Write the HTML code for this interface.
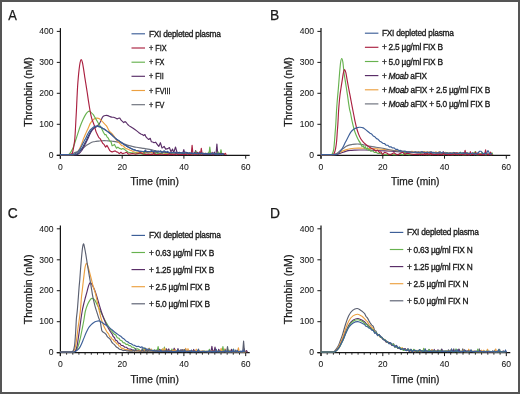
<!DOCTYPE html>
<html><head><meta charset="utf-8"><style>
html,body{margin:0;padding:0;background:#fff;}
svg{display:block;will-change:transform;}
text{font-family:"Liberation Sans",sans-serif;fill:#1a1a1a;stroke:#1a1a1a;stroke-width:0.25px;}
.tk{font-size:9.3px;stroke-width:0.08px;}
.al{font-size:10.6px;}
.lg{font-size:9.2px;stroke-width:0.35px;letter-spacing:-0.25px;}
.pl{font-size:13.8px;}
.ls0{letter-spacing:0;}
</style></head><body>
<svg width="520" height="394" viewBox="0 0 520 394">
<rect x="0" y="0" width="520" height="394" fill="#fff"/>

<text x="8.3" y="19.5" class="pl" textLength="8.6" lengthAdjust="spacingAndGlyphs">A</text>
<text x="270.0" y="19.5" class="pl">B</text>
<text x="7.7" y="217.8" class="pl">C</text>
<text x="270.0" y="217.8" class="pl">D</text>
<line x1="60.4" y1="28.1" x2="60.4" y2="158.7" stroke="#151515" stroke-width="1.25"/>
<line x1="56.8" y1="155.3" x2="249.7" y2="155.3" stroke="#151515" stroke-width="1.2"/>
<line x1="56.8" y1="155.3" x2="60.4" y2="155.3" stroke="#1a1a1a" stroke-width="1"/>
<text x="53.5" y="158.0" text-anchor="end" class="tk" textLength="4.76" lengthAdjust="spacingAndGlyphs">0</text>
<line x1="56.8" y1="124.3" x2="60.4" y2="124.3" stroke="#1a1a1a" stroke-width="1"/>
<text x="53.5" y="127.0" text-anchor="end" class="tk" textLength="14.27" lengthAdjust="spacingAndGlyphs">100</text>
<line x1="56.8" y1="93.3" x2="60.4" y2="93.3" stroke="#1a1a1a" stroke-width="1"/>
<text x="53.5" y="96.0" text-anchor="end" class="tk" textLength="14.27" lengthAdjust="spacingAndGlyphs">200</text>
<line x1="56.8" y1="62.4" x2="60.4" y2="62.4" stroke="#1a1a1a" stroke-width="1"/>
<text x="53.5" y="65.1" text-anchor="end" class="tk" textLength="14.27" lengthAdjust="spacingAndGlyphs">300</text>
<line x1="56.8" y1="31.4" x2="60.4" y2="31.4" stroke="#1a1a1a" stroke-width="1"/>
<text x="53.5" y="34.1" text-anchor="end" class="tk" textLength="14.27" lengthAdjust="spacingAndGlyphs">400</text>
<line x1="60.4" y1="155.3" x2="60.4" y2="158.7" stroke="#1a1a1a" stroke-width="1"/>
<text x="60.4" y="169.9" text-anchor="middle" class="tk" textLength="4.76" lengthAdjust="spacingAndGlyphs">0</text>
<line x1="122.2" y1="155.3" x2="122.2" y2="158.7" stroke="#1a1a1a" stroke-width="1"/>
<text x="122.2" y="169.9" text-anchor="middle" class="tk" textLength="9.52" lengthAdjust="spacingAndGlyphs">20</text>
<line x1="183.9" y1="155.3" x2="183.9" y2="158.7" stroke="#1a1a1a" stroke-width="1"/>
<text x="183.9" y="169.9" text-anchor="middle" class="tk" textLength="9.52" lengthAdjust="spacingAndGlyphs">40</text>
<line x1="245.7" y1="155.3" x2="245.7" y2="158.7" stroke="#1a1a1a" stroke-width="1"/>
<text x="245.7" y="169.9" text-anchor="middle" class="tk" textLength="9.52" lengthAdjust="spacingAndGlyphs">60</text>
<text x="130.5" y="185.4" class="al" textLength="48.4" lengthAdjust="spacingAndGlyphs">Time (min)</text>
<text transform="translate(31.7,126.8) rotate(-90)" class="al" textLength="69.7" lengthAdjust="spacingAndGlyphs">Thrombin (nM)</text>
<line x1="321.0" y1="28.1" x2="321.0" y2="158.7" stroke="#151515" stroke-width="1.25"/>
<line x1="317.4" y1="155.3" x2="510.3" y2="155.3" stroke="#151515" stroke-width="1.2"/>
<line x1="317.4" y1="155.3" x2="321.0" y2="155.3" stroke="#1a1a1a" stroke-width="1"/>
<text x="314.1" y="158.0" text-anchor="end" class="tk" textLength="4.76" lengthAdjust="spacingAndGlyphs">0</text>
<line x1="317.4" y1="124.3" x2="321.0" y2="124.3" stroke="#1a1a1a" stroke-width="1"/>
<text x="314.1" y="127.0" text-anchor="end" class="tk" textLength="14.27" lengthAdjust="spacingAndGlyphs">100</text>
<line x1="317.4" y1="93.3" x2="321.0" y2="93.3" stroke="#1a1a1a" stroke-width="1"/>
<text x="314.1" y="96.0" text-anchor="end" class="tk" textLength="14.27" lengthAdjust="spacingAndGlyphs">200</text>
<line x1="317.4" y1="62.4" x2="321.0" y2="62.4" stroke="#1a1a1a" stroke-width="1"/>
<text x="314.1" y="65.1" text-anchor="end" class="tk" textLength="14.27" lengthAdjust="spacingAndGlyphs">300</text>
<line x1="317.4" y1="31.4" x2="321.0" y2="31.4" stroke="#1a1a1a" stroke-width="1"/>
<text x="314.1" y="34.1" text-anchor="end" class="tk" textLength="14.27" lengthAdjust="spacingAndGlyphs">400</text>
<line x1="321.0" y1="155.3" x2="321.0" y2="158.7" stroke="#1a1a1a" stroke-width="1"/>
<text x="321.0" y="169.9" text-anchor="middle" class="tk" textLength="4.76" lengthAdjust="spacingAndGlyphs">0</text>
<line x1="382.8" y1="155.3" x2="382.8" y2="158.7" stroke="#1a1a1a" stroke-width="1"/>
<text x="382.8" y="169.9" text-anchor="middle" class="tk" textLength="9.52" lengthAdjust="spacingAndGlyphs">20</text>
<line x1="444.5" y1="155.3" x2="444.5" y2="158.7" stroke="#1a1a1a" stroke-width="1"/>
<text x="444.5" y="169.9" text-anchor="middle" class="tk" textLength="9.52" lengthAdjust="spacingAndGlyphs">40</text>
<line x1="506.3" y1="155.3" x2="506.3" y2="158.7" stroke="#1a1a1a" stroke-width="1"/>
<text x="506.3" y="169.9" text-anchor="middle" class="tk" textLength="9.52" lengthAdjust="spacingAndGlyphs">60</text>
<text x="391.1" y="185.4" class="al" textLength="48.4" lengthAdjust="spacingAndGlyphs">Time (min)</text>
<text transform="translate(292.3,126.8) rotate(-90)" class="al" textLength="69.7" lengthAdjust="spacingAndGlyphs">Thrombin (nM)</text>
<line x1="60.4" y1="225.5" x2="60.4" y2="356.1" stroke="#151515" stroke-width="1.25"/>
<line x1="56.8" y1="352.7" x2="249.7" y2="352.7" stroke="#151515" stroke-width="1.2"/>
<line x1="56.8" y1="352.7" x2="60.4" y2="352.7" stroke="#1a1a1a" stroke-width="1"/>
<text x="53.5" y="355.4" text-anchor="end" class="tk" textLength="4.76" lengthAdjust="spacingAndGlyphs">0</text>
<line x1="56.8" y1="321.7" x2="60.4" y2="321.7" stroke="#1a1a1a" stroke-width="1"/>
<text x="53.5" y="324.4" text-anchor="end" class="tk" textLength="14.27" lengthAdjust="spacingAndGlyphs">100</text>
<line x1="56.8" y1="290.7" x2="60.4" y2="290.7" stroke="#1a1a1a" stroke-width="1"/>
<text x="53.5" y="293.4" text-anchor="end" class="tk" textLength="14.27" lengthAdjust="spacingAndGlyphs">200</text>
<line x1="56.8" y1="259.8" x2="60.4" y2="259.8" stroke="#1a1a1a" stroke-width="1"/>
<text x="53.5" y="262.5" text-anchor="end" class="tk" textLength="14.27" lengthAdjust="spacingAndGlyphs">300</text>
<line x1="56.8" y1="228.8" x2="60.4" y2="228.8" stroke="#1a1a1a" stroke-width="1"/>
<text x="53.5" y="231.5" text-anchor="end" class="tk" textLength="14.27" lengthAdjust="spacingAndGlyphs">400</text>
<line x1="60.4" y1="352.7" x2="60.4" y2="356.1" stroke="#1a1a1a" stroke-width="1"/>
<text x="60.4" y="367.3" text-anchor="middle" class="tk" textLength="4.76" lengthAdjust="spacingAndGlyphs">0</text>
<line x1="122.2" y1="352.7" x2="122.2" y2="356.1" stroke="#1a1a1a" stroke-width="1"/>
<text x="122.2" y="367.3" text-anchor="middle" class="tk" textLength="9.52" lengthAdjust="spacingAndGlyphs">20</text>
<line x1="183.9" y1="352.7" x2="183.9" y2="356.1" stroke="#1a1a1a" stroke-width="1"/>
<text x="183.9" y="367.3" text-anchor="middle" class="tk" textLength="9.52" lengthAdjust="spacingAndGlyphs">40</text>
<line x1="245.7" y1="352.7" x2="245.7" y2="356.1" stroke="#1a1a1a" stroke-width="1"/>
<text x="245.7" y="367.3" text-anchor="middle" class="tk" textLength="9.52" lengthAdjust="spacingAndGlyphs">60</text>
<line x1="66.6" y1="352.7" x2="66.6" y2="354.7" stroke="#1a1a1a" stroke-width="0.9"/>
<line x1="72.8" y1="352.7" x2="72.8" y2="354.7" stroke="#1a1a1a" stroke-width="0.9"/>
<line x1="78.9" y1="352.7" x2="78.9" y2="354.7" stroke="#1a1a1a" stroke-width="0.9"/>
<line x1="85.1" y1="352.7" x2="85.1" y2="354.7" stroke="#1a1a1a" stroke-width="0.9"/>
<line x1="91.3" y1="352.7" x2="91.3" y2="354.7" stroke="#1a1a1a" stroke-width="0.9"/>
<line x1="97.5" y1="352.7" x2="97.5" y2="354.7" stroke="#1a1a1a" stroke-width="0.9"/>
<line x1="103.6" y1="352.7" x2="103.6" y2="354.7" stroke="#1a1a1a" stroke-width="0.9"/>
<line x1="109.8" y1="352.7" x2="109.8" y2="354.7" stroke="#1a1a1a" stroke-width="0.9"/>
<line x1="116.0" y1="352.7" x2="116.0" y2="354.7" stroke="#1a1a1a" stroke-width="0.9"/>
<line x1="128.3" y1="352.7" x2="128.3" y2="354.7" stroke="#1a1a1a" stroke-width="0.9"/>
<line x1="134.5" y1="352.7" x2="134.5" y2="354.7" stroke="#1a1a1a" stroke-width="0.9"/>
<line x1="140.7" y1="352.7" x2="140.7" y2="354.7" stroke="#1a1a1a" stroke-width="0.9"/>
<line x1="146.9" y1="352.7" x2="146.9" y2="354.7" stroke="#1a1a1a" stroke-width="0.9"/>
<line x1="153.0" y1="352.7" x2="153.0" y2="354.7" stroke="#1a1a1a" stroke-width="0.9"/>
<line x1="159.2" y1="352.7" x2="159.2" y2="354.7" stroke="#1a1a1a" stroke-width="0.9"/>
<line x1="165.4" y1="352.7" x2="165.4" y2="354.7" stroke="#1a1a1a" stroke-width="0.9"/>
<line x1="171.6" y1="352.7" x2="171.6" y2="354.7" stroke="#1a1a1a" stroke-width="0.9"/>
<line x1="177.7" y1="352.7" x2="177.7" y2="354.7" stroke="#1a1a1a" stroke-width="0.9"/>
<line x1="190.1" y1="352.7" x2="190.1" y2="354.7" stroke="#1a1a1a" stroke-width="0.9"/>
<line x1="196.3" y1="352.7" x2="196.3" y2="354.7" stroke="#1a1a1a" stroke-width="0.9"/>
<line x1="202.4" y1="352.7" x2="202.4" y2="354.7" stroke="#1a1a1a" stroke-width="0.9"/>
<line x1="208.6" y1="352.7" x2="208.6" y2="354.7" stroke="#1a1a1a" stroke-width="0.9"/>
<line x1="214.8" y1="352.7" x2="214.8" y2="354.7" stroke="#1a1a1a" stroke-width="0.9"/>
<line x1="221.0" y1="352.7" x2="221.0" y2="354.7" stroke="#1a1a1a" stroke-width="0.9"/>
<line x1="227.2" y1="352.7" x2="227.2" y2="354.7" stroke="#1a1a1a" stroke-width="0.9"/>
<line x1="233.3" y1="352.7" x2="233.3" y2="354.7" stroke="#1a1a1a" stroke-width="0.9"/>
<line x1="239.5" y1="352.7" x2="239.5" y2="354.7" stroke="#1a1a1a" stroke-width="0.9"/>
<text x="130.5" y="382.8" class="al" textLength="48.4" lengthAdjust="spacingAndGlyphs">Time (min)</text>
<text transform="translate(31.7,324.2) rotate(-90)" class="al" textLength="69.7" lengthAdjust="spacingAndGlyphs">Thrombin (nM)</text>
<line x1="321.0" y1="225.5" x2="321.0" y2="356.1" stroke="#151515" stroke-width="1.25"/>
<line x1="317.4" y1="352.7" x2="510.3" y2="352.7" stroke="#151515" stroke-width="1.2"/>
<line x1="317.4" y1="352.7" x2="321.0" y2="352.7" stroke="#1a1a1a" stroke-width="1"/>
<text x="314.1" y="355.4" text-anchor="end" class="tk" textLength="4.76" lengthAdjust="spacingAndGlyphs">0</text>
<line x1="317.4" y1="321.7" x2="321.0" y2="321.7" stroke="#1a1a1a" stroke-width="1"/>
<text x="314.1" y="324.4" text-anchor="end" class="tk" textLength="14.27" lengthAdjust="spacingAndGlyphs">100</text>
<line x1="317.4" y1="290.7" x2="321.0" y2="290.7" stroke="#1a1a1a" stroke-width="1"/>
<text x="314.1" y="293.4" text-anchor="end" class="tk" textLength="14.27" lengthAdjust="spacingAndGlyphs">200</text>
<line x1="317.4" y1="259.8" x2="321.0" y2="259.8" stroke="#1a1a1a" stroke-width="1"/>
<text x="314.1" y="262.5" text-anchor="end" class="tk" textLength="14.27" lengthAdjust="spacingAndGlyphs">300</text>
<line x1="317.4" y1="228.8" x2="321.0" y2="228.8" stroke="#1a1a1a" stroke-width="1"/>
<text x="314.1" y="231.5" text-anchor="end" class="tk" textLength="14.27" lengthAdjust="spacingAndGlyphs">400</text>
<line x1="321.0" y1="352.7" x2="321.0" y2="356.1" stroke="#1a1a1a" stroke-width="1"/>
<text x="321.0" y="367.3" text-anchor="middle" class="tk" textLength="4.76" lengthAdjust="spacingAndGlyphs">0</text>
<line x1="382.8" y1="352.7" x2="382.8" y2="356.1" stroke="#1a1a1a" stroke-width="1"/>
<text x="382.8" y="367.3" text-anchor="middle" class="tk" textLength="9.52" lengthAdjust="spacingAndGlyphs">20</text>
<line x1="444.5" y1="352.7" x2="444.5" y2="356.1" stroke="#1a1a1a" stroke-width="1"/>
<text x="444.5" y="367.3" text-anchor="middle" class="tk" textLength="9.52" lengthAdjust="spacingAndGlyphs">40</text>
<line x1="506.3" y1="352.7" x2="506.3" y2="356.1" stroke="#1a1a1a" stroke-width="1"/>
<text x="506.3" y="367.3" text-anchor="middle" class="tk" textLength="9.52" lengthAdjust="spacingAndGlyphs">60</text>
<line x1="327.2" y1="352.7" x2="327.2" y2="354.7" stroke="#1a1a1a" stroke-width="0.9"/>
<line x1="333.4" y1="352.7" x2="333.4" y2="354.7" stroke="#1a1a1a" stroke-width="0.9"/>
<line x1="339.5" y1="352.7" x2="339.5" y2="354.7" stroke="#1a1a1a" stroke-width="0.9"/>
<line x1="345.7" y1="352.7" x2="345.7" y2="354.7" stroke="#1a1a1a" stroke-width="0.9"/>
<line x1="351.9" y1="352.7" x2="351.9" y2="354.7" stroke="#1a1a1a" stroke-width="0.9"/>
<line x1="358.1" y1="352.7" x2="358.1" y2="354.7" stroke="#1a1a1a" stroke-width="0.9"/>
<line x1="364.2" y1="352.7" x2="364.2" y2="354.7" stroke="#1a1a1a" stroke-width="0.9"/>
<line x1="370.4" y1="352.7" x2="370.4" y2="354.7" stroke="#1a1a1a" stroke-width="0.9"/>
<line x1="376.6" y1="352.7" x2="376.6" y2="354.7" stroke="#1a1a1a" stroke-width="0.9"/>
<line x1="388.9" y1="352.7" x2="388.9" y2="354.7" stroke="#1a1a1a" stroke-width="0.9"/>
<line x1="395.1" y1="352.7" x2="395.1" y2="354.7" stroke="#1a1a1a" stroke-width="0.9"/>
<line x1="401.3" y1="352.7" x2="401.3" y2="354.7" stroke="#1a1a1a" stroke-width="0.9"/>
<line x1="407.5" y1="352.7" x2="407.5" y2="354.7" stroke="#1a1a1a" stroke-width="0.9"/>
<line x1="413.6" y1="352.7" x2="413.6" y2="354.7" stroke="#1a1a1a" stroke-width="0.9"/>
<line x1="419.8" y1="352.7" x2="419.8" y2="354.7" stroke="#1a1a1a" stroke-width="0.9"/>
<line x1="426.0" y1="352.7" x2="426.0" y2="354.7" stroke="#1a1a1a" stroke-width="0.9"/>
<line x1="432.2" y1="352.7" x2="432.2" y2="354.7" stroke="#1a1a1a" stroke-width="0.9"/>
<line x1="438.3" y1="352.7" x2="438.3" y2="354.7" stroke="#1a1a1a" stroke-width="0.9"/>
<line x1="450.7" y1="352.7" x2="450.7" y2="354.7" stroke="#1a1a1a" stroke-width="0.9"/>
<line x1="456.9" y1="352.7" x2="456.9" y2="354.7" stroke="#1a1a1a" stroke-width="0.9"/>
<line x1="463.0" y1="352.7" x2="463.0" y2="354.7" stroke="#1a1a1a" stroke-width="0.9"/>
<line x1="469.2" y1="352.7" x2="469.2" y2="354.7" stroke="#1a1a1a" stroke-width="0.9"/>
<line x1="475.4" y1="352.7" x2="475.4" y2="354.7" stroke="#1a1a1a" stroke-width="0.9"/>
<line x1="481.6" y1="352.7" x2="481.6" y2="354.7" stroke="#1a1a1a" stroke-width="0.9"/>
<line x1="487.8" y1="352.7" x2="487.8" y2="354.7" stroke="#1a1a1a" stroke-width="0.9"/>
<line x1="493.9" y1="352.7" x2="493.9" y2="354.7" stroke="#1a1a1a" stroke-width="0.9"/>
<line x1="500.1" y1="352.7" x2="500.1" y2="354.7" stroke="#1a1a1a" stroke-width="0.9"/>
<text x="391.1" y="382.8" class="al" textLength="48.4" lengthAdjust="spacingAndGlyphs">Time (min)</text>
<text transform="translate(292.3,324.2) rotate(-90)" class="al" textLength="69.7" lengthAdjust="spacingAndGlyphs">Thrombin (nM)</text>
<line x1="131.5" y1="33.8" x2="145.0" y2="33.8" stroke="#3d5f98" stroke-width="1.15"/>
<text x="148.9" y="36.8" class="lg" textLength="71.8" lengthAdjust="spacingAndGlyphs"><tspan>FXI depleted plasma</tspan></text>
<line x1="131.5" y1="48.0" x2="145.0" y2="48.0" stroke="#aa2040" stroke-width="1.15"/>
<text x="148.9" y="51.0" class="lg ls0" textLength="17.7" lengthAdjust="spacingAndGlyphs"><tspan>+ FIX</tspan></text>
<line x1="131.5" y1="62.2" x2="145.0" y2="62.2" stroke="#67b24f" stroke-width="1.15"/>
<text x="148.9" y="65.2" class="lg ls0" textLength="15.6" lengthAdjust="spacingAndGlyphs"><tspan>+ FX</tspan></text>
<line x1="131.5" y1="76.3" x2="145.0" y2="76.3" stroke="#5a2e68" stroke-width="1.15"/>
<text x="148.9" y="79.3" class="lg ls0" textLength="14.8" lengthAdjust="spacingAndGlyphs"><tspan>+ FII</tspan></text>
<line x1="131.5" y1="90.5" x2="145.0" y2="90.5" stroke="#eca040" stroke-width="1.15"/>
<text x="148.9" y="93.5" class="lg ls0" textLength="21.7" lengthAdjust="spacingAndGlyphs"><tspan>+ FVIII</tspan></text>
<line x1="131.5" y1="104.7" x2="145.0" y2="104.7" stroke="#6c707b" stroke-width="1.15"/>
<text x="148.9" y="107.7" class="lg ls0" textLength="15.6" lengthAdjust="spacingAndGlyphs"><tspan>+ FV</tspan></text>
<line x1="364.9" y1="33.2" x2="378.4" y2="33.2" stroke="#3d5f98" stroke-width="1.15"/>
<text x="381.9" y="36.2" class="lg" textLength="71.8" lengthAdjust="spacingAndGlyphs"><tspan>FXI depleted plasma</tspan></text>
<line x1="364.9" y1="47.3" x2="378.4" y2="47.3" stroke="#aa2040" stroke-width="1.15"/>
<text x="381.9" y="50.3" class="lg" textLength="60.9" lengthAdjust="spacingAndGlyphs"><tspan>+ 2.5 µg/ml FIX B</tspan></text>
<line x1="364.9" y1="61.5" x2="378.4" y2="61.5" stroke="#67b24f" stroke-width="1.15"/>
<text x="381.9" y="64.5" class="lg" textLength="60.9" lengthAdjust="spacingAndGlyphs"><tspan>+ 5.0 µg/ml FIX B</tspan></text>
<line x1="364.9" y1="75.6" x2="378.4" y2="75.6" stroke="#5a2e68" stroke-width="1.15"/>
<text x="381.9" y="78.6" class="lg" textLength="45.0" lengthAdjust="spacingAndGlyphs"><tspan>+ </tspan><tspan font-style="italic">Moab</tspan><tspan> aFIX</tspan></text>
<line x1="364.9" y1="89.8" x2="378.4" y2="89.8" stroke="#eca040" stroke-width="1.15"/>
<text x="381.9" y="92.8" class="lg" textLength="108.1" lengthAdjust="spacingAndGlyphs"><tspan>+ </tspan><tspan font-style="italic">Moab</tspan><tspan> aFIX + 2.5 µg/ml FIX B</tspan></text>
<line x1="364.9" y1="103.9" x2="378.4" y2="103.9" stroke="#6c707b" stroke-width="1.15"/>
<text x="381.9" y="106.9" class="lg" textLength="108.1" lengthAdjust="spacingAndGlyphs"><tspan>+ </tspan><tspan font-style="italic">Moab</tspan><tspan> aFIX + 5.0 µg/ml FIX B</tspan></text>
<line x1="131.5" y1="235.4" x2="145.0" y2="235.4" stroke="#3d5f98" stroke-width="1.15"/>
<text x="148.9" y="238.4" class="lg" textLength="71.8" lengthAdjust="spacingAndGlyphs"><tspan>FXI depleted plasma</tspan></text>
<line x1="131.5" y1="252.5" x2="145.0" y2="252.5" stroke="#67b24f" stroke-width="1.15"/>
<text x="148.9" y="255.5" class="lg" textLength="65.2" lengthAdjust="spacingAndGlyphs"><tspan>+ 0.63 µg/ml FIX B</tspan></text>
<line x1="131.5" y1="269.6" x2="145.0" y2="269.6" stroke="#5a2e68" stroke-width="1.15"/>
<text x="148.9" y="272.6" class="lg" textLength="65.2" lengthAdjust="spacingAndGlyphs"><tspan>+ 1.25 µg/ml FIX B</tspan></text>
<line x1="131.5" y1="286.7" x2="145.0" y2="286.7" stroke="#eca040" stroke-width="1.15"/>
<text x="148.9" y="289.7" class="lg" textLength="60.9" lengthAdjust="spacingAndGlyphs"><tspan>+ 2.5 µg/ml FIX B</tspan></text>
<line x1="131.5" y1="303.8" x2="145.0" y2="303.8" stroke="#5a5f70" stroke-width="1.15"/>
<text x="148.9" y="306.8" class="lg" textLength="60.9" lengthAdjust="spacingAndGlyphs"><tspan>+ 5.0 µg/ml FIX B</tspan></text>
<line x1="389.8" y1="232.4" x2="403.3" y2="232.4" stroke="#3d5f98" stroke-width="1.15"/>
<text x="406.9" y="235.4" class="lg" textLength="71.8" lengthAdjust="spacingAndGlyphs"><tspan>FXI depleted plasma</tspan></text>
<line x1="389.8" y1="249.5" x2="403.3" y2="249.5" stroke="#67b24f" stroke-width="1.15"/>
<text x="406.9" y="252.5" class="lg" textLength="65.6" lengthAdjust="spacingAndGlyphs"><tspan>+ 0.63 µg/ml FIX N</tspan></text>
<line x1="389.8" y1="266.6" x2="403.3" y2="266.6" stroke="#5a2e68" stroke-width="1.15"/>
<text x="406.9" y="269.6" class="lg" textLength="65.6" lengthAdjust="spacingAndGlyphs"><tspan>+ 1.25 µg/ml FIX N</tspan></text>
<line x1="389.8" y1="283.7" x2="403.3" y2="283.7" stroke="#eca040" stroke-width="1.15"/>
<text x="406.9" y="286.7" class="lg" textLength="61.3" lengthAdjust="spacingAndGlyphs"><tspan>+ 2.5 µg/ml FIX N</tspan></text>
<line x1="389.8" y1="300.8" x2="403.3" y2="300.8" stroke="#5a5f70" stroke-width="1.15"/>
<text x="406.9" y="303.8" class="lg" textLength="61.3" lengthAdjust="spacingAndGlyphs"><tspan>+ 5.0 µg/ml FIX N</tspan></text>
<path d="M60.40,154.60C61.67,154.60 66.27,154.60 68.00,154.60C69.73,154.60 69.78,154.87 70.80,154.60C71.82,154.33 73.08,153.47 74.10,153.00C75.12,152.53 75.88,152.27 76.90,151.80C77.92,151.33 79.12,150.88 80.20,150.20C81.28,149.52 82.35,148.52 83.40,147.70C84.45,146.88 85.40,146.05 86.50,145.30C87.60,144.55 88.83,143.78 90.00,143.20C91.17,142.62 92.50,142.10 93.50,141.80C94.50,141.50 95.13,141.52 96.00,141.40C96.87,141.28 97.78,141.20 98.70,141.10C99.62,141.00 100.58,140.88 101.50,140.80C102.42,140.72 103.28,140.60 104.20,140.60C105.12,140.60 106.08,140.73 107.00,140.80C107.92,140.87 108.80,140.92 109.70,141.00C110.60,141.08 111.48,141.20 112.40,141.30C113.32,141.40 114.28,141.47 115.20,141.60C116.12,141.73 117.10,141.93 117.90,142.10C118.70,142.27 119.25,142.43 120.00,142.60C120.75,142.77 121.50,142.80 122.40,143.10C123.30,143.40 124.30,143.98 125.40,144.40C126.50,144.82 127.78,145.25 129.00,145.60C130.22,145.95 131.47,146.22 132.70,146.50C133.93,146.78 135.17,147.07 136.40,147.30C137.63,147.53 138.88,147.72 140.10,147.90C141.32,148.08 142.63,148.23 143.70,148.40C144.77,148.57 145.32,148.70 146.50,148.90C147.68,149.10 149.37,149.32 150.80,149.60C152.23,149.88 153.68,150.28 155.10,150.60C156.52,150.92 157.70,151.23 159.30,151.50C160.90,151.77 162.92,151.98 164.70,152.20C166.48,152.42 169.12,152.70 170.00,152.80 L172.00,152.66 L173.66,152.91 L175.22,152.68 L176.91,153.26 L178.52,152.62 L180.40,153.39 L181.81,153.35 L183.71,153.26 L184.87,152.36 L186.92,153.36 L188.63,153.45 L189.76,153.48 L190.94,153.47 L192.29,153.73 L193.86,153.25 L195.78,153.64 L197.52,153.27 L199.28,153.76 L200.66,152.76 L202.74,153.71 L204.54,153.68 L205.88,153.99 L207.07,153.21 L208.57,153.86 L210.06,153.06 L211.99,154.26 L213.32,153.20 L214.89,153.98 L216.39,154.28 L218.11,154.14 L219.49,154.35 L220.93,154.15 L222.78,154.40 L224.14,154.54" fill="none" stroke="#6c707b" stroke-width="1.15" stroke-linejoin="round" stroke-linecap="round"/>
<path d="M60.40,154.60C62.67,154.60 71.18,154.60 74.00,154.60C76.82,154.60 76.42,154.80 77.30,154.60C78.18,154.40 78.62,154.00 79.30,153.40C79.98,152.80 80.78,151.82 81.40,151.00C82.02,150.18 82.47,149.45 83.00,148.50C83.53,147.55 84.05,146.38 84.60,145.30C85.15,144.22 85.72,143.18 86.30,142.00C86.88,140.82 87.50,139.50 88.10,138.20C88.70,136.90 89.22,135.53 89.90,134.20C90.58,132.87 91.42,131.27 92.20,130.20C92.98,129.13 93.78,128.47 94.60,127.80C95.42,127.13 96.30,126.90 97.10,126.20C97.90,125.50 98.77,124.50 99.40,123.60C100.03,122.70 100.45,121.75 100.90,120.80C101.35,119.85 101.70,118.65 102.10,117.90C102.50,117.15 102.73,116.70 103.30,116.30C103.87,115.90 104.75,115.62 105.50,115.50C106.25,115.38 107.03,115.42 107.80,115.60C108.57,115.78 109.40,116.33 110.10,116.60C110.80,116.87 111.68,117.10 112.00,117.20 L113.60,117.20 L115.50,118.00 L117.20,118.90 L118.40,118.30 L119.80,118.00 L121.10,120.20 L122.40,121.40 L123.70,122.60 L125.20,121.60 L126.20,122.50 L127.70,124.50 L129.00,125.60 L130.30,126.60 L132.70,128.00 L134.90,129.50 L136.40,130.60 L138.60,132.40 L140.80,133.90 L142.20,134.60 L143.70,135.60 L144.90,134.50 L146.00,136.90 L147.40,138.30 L148.70,139.50 L150.30,138.30 L151.30,141.70 L152.70,142.00 L154.00,142.70 L155.60,142.20 L157.20,144.30 L158.80,146.40 L160.40,142.70 L162.00,148.00 L163.00,147.40 L164.10,146.40 L165.70,149.10 L167.90,148.60 L169.40,147.50 L171.00,151.80 L172.60,149.10 L173.70,152.80 L175.50,147.00 L176.90,151.80 L178.50,153.40 L180.60,153.90 L182.80,152.80 L183.80,149.60 L184.90,153.90 L188.00,153.40 L189.50,154.48 L190.25,153.42 L191.00,154.39 L191.75,154.53 L192.50,153.42 L193.25,154.37 L194.00,154.40 L194.75,152.22 L195.50,154.56 L194.70,154.60 L195.60,150.60 L196.50,154.60 L197.10,154.38 L198.60,154.10 L200.10,154.32 L200.85,153.60 L201.60,154.48 L202.35,154.49 L203.10,153.01 L203.85,154.31 L204.60,154.42 L205.35,153.22 L206.10,154.44 L206.85,154.18 L208.35,154.50 L209.85,154.11 L211.35,154.34 L212.10,152.23 L212.85,154.40 L213.60,154.38 L214.35,152.11 L215.10,154.54 L215.85,154.49 L216.00,154.60 L216.90,144.10 L217.80,154.60 L218.40,154.50 L219.15,152.99 L219.90,154.48 L220.65,154.18 L222.15,154.11 L223.65,154.21" fill="none" stroke="#5a2e68" stroke-width="1.15" stroke-linejoin="round" stroke-linecap="round"/>
<path d="M60.40,154.60C62.25,154.60 69.15,154.63 71.50,154.60C73.85,154.57 73.58,154.73 74.50,154.40C75.42,154.07 76.25,153.35 77.00,152.60C77.75,151.85 78.40,150.90 79.00,149.90C79.60,148.90 80.03,147.92 80.60,146.60C81.17,145.28 81.90,143.37 82.40,142.00C82.90,140.63 83.08,139.72 83.60,138.40C84.12,137.08 84.88,135.48 85.50,134.10C86.12,132.72 86.78,131.23 87.30,130.10C87.82,128.97 88.10,128.42 88.60,127.30C89.10,126.18 89.63,124.55 90.30,123.40C90.97,122.25 91.83,121.20 92.60,120.40C93.37,119.60 94.15,118.98 94.90,118.60C95.65,118.22 96.35,118.07 97.10,118.10C97.85,118.13 98.63,118.33 99.40,118.80C100.17,119.27 100.93,120.15 101.70,120.90C102.47,121.65 103.23,122.50 104.00,123.30C104.77,124.10 105.67,124.87 106.30,125.70C106.93,126.53 107.30,127.38 107.80,128.30C108.30,129.22 108.83,130.52 109.30,131.20C109.77,131.88 110.08,131.90 110.60,132.40C111.12,132.90 111.75,133.47 112.40,134.20C113.05,134.93 113.82,135.82 114.50,136.80C115.18,137.78 115.87,139.23 116.50,140.10C117.13,140.97 118.00,141.68 118.30,142.00 L120.20,143.80 L121.70,145.60 L123.00,145.70 L124.60,147.50 L126.10,148.60 L127.60,149.00 L129.80,150.10 L132.00,150.80 L133.40,151.90 L135.60,152.30 L138.60,152.30 L140.00,151.80 L142.00,152.90 L143.50,152.44 L144.84,153.13 L146.84,152.11 L148.62,152.97 L150.11,151.87 L151.78,152.89 L153.54,151.72 L155.08,153.33 L156.34,152.01 L157.62,153.08 L159.34,153.39 L161.21,153.53 L163.17,151.90 L164.49,153.18 L166.32,153.40 L168.08,153.61 L170.08,152.34 L172.14,153.73 L173.56,152.55 L175.27,153.75 L177.24,152.68 L178.65,153.83 L180.41,153.35 L182.16,153.75 L183.66,153.96 L184.91,153.82 L186.73,153.45 L188.57,153.86 L190.53,153.21 L191.96,154.09 L193.14,154.12 L195.09,153.85 L196.93,154.10 L198.69,154.23 L200.66,153.40 L202.50,154.10 L204.02,153.20 L206.07,154.33 L207.61,153.43 L209.38,154.32 L210.93,153.17 L212.32,154.46 L214.09,154.20 L216.08,154.49 L218.08,154.13 L220.05,154.39 L221.88,154.44 L223.15,154.60 L224.45,153.86" fill="none" stroke="#eca040" stroke-width="1.15" stroke-linejoin="round" stroke-linecap="round"/>
<path d="M60.40,154.60C61.33,154.60 64.60,154.63 66.00,154.60C67.40,154.57 67.97,154.85 68.80,154.40C69.63,153.95 70.23,153.13 71.00,151.90C71.77,150.67 72.60,149.02 73.40,147.00C74.20,144.98 75.02,142.20 75.80,139.80C76.58,137.40 77.33,134.93 78.10,132.60C78.87,130.27 79.62,127.90 80.40,125.80C81.18,123.70 82.03,121.70 82.80,120.00C83.57,118.30 84.30,116.82 85.00,115.60C85.70,114.38 86.30,113.45 87.00,112.70C87.70,111.95 88.53,111.15 89.20,111.10C89.87,111.05 90.32,111.82 91.00,112.40C91.68,112.98 92.65,113.77 93.30,114.60C93.95,115.43 94.38,116.52 94.90,117.40C95.42,118.28 95.90,119.05 96.40,119.90C96.90,120.75 97.40,121.67 97.90,122.50C98.40,123.33 98.90,124.12 99.40,124.90C99.90,125.68 100.43,126.38 100.90,127.20C101.37,128.02 101.77,128.92 102.20,129.80C102.63,130.68 103.28,132.05 103.50,132.50 L104.90,134.80 L105.90,134.50 L107.00,136.80 L108.30,138.20 L109.70,141.00 L111.10,142.00 L112.10,145.80 L113.10,145.40 L114.50,144.40 L115.50,146.40 L116.50,148.20 L117.90,147.10 L119.30,148.40 L120.40,148.60 L121.30,149.30 L122.80,148.60 L124.60,149.30 L126.10,150.80 L128.30,152.20 L130.50,152.60 L133.00,152.90 L135.60,153.10 L138.00,153.60 L140.50,153.40 L142.00,154.25 L143.50,154.43 L144.25,151.75 L145.00,154.33 L145.75,154.30 L147.25,154.13 L148.75,154.19 L150.25,154.32 L151.75,154.30 L153.25,154.07 L154.75,154.36 L155.50,152.92 L156.25,154.26 L157.00,154.39 L157.75,152.18 L158.50,154.26 L159.25,154.12 L160.75,154.37 L161.50,151.88 L162.25,154.25 L163.00,154.05 L164.50,154.09 L166.00,154.09 L167.50,154.41 L169.00,154.27 L170.50,154.38 L171.25,152.56 L172.00,154.44 L172.75,154.44 L174.25,154.23 L175.75,154.36 L176.50,152.71 L177.25,154.46 L178.00,154.17 L179.50,154.09 L181.00,154.00 L182.50,154.18 L184.00,154.24 L185.50,154.04 L187.00,154.08 L188.50,154.47 L189.25,152.59 L190.00,154.32 L190.75,154.22 L192.25,154.39 L193.75,154.21 L195.25,154.48 L196.00,151.42 L196.75,154.36 L197.50,154.20 L199.00,154.22 L200.50,154.35 L202.00,154.43 L203.50,154.29 L205.00,154.44 L206.50,154.02 L208.00,154.30 L208.75,152.09 L209.50,154.28 L208.90,154.50 L209.80,147.10 L210.70,154.50 L211.30,154.25 L212.80,154.36 L214.30,154.17 L215.80,154.26 L217.30,154.42 L218.05,151.85 L218.80,154.27 L219.55,154.11 L220.10,154.50 L221.00,149.70 L221.90,154.50 L222.50,154.07 L224.00,154.34" fill="none" stroke="#67b24f" stroke-width="1.15" stroke-linejoin="round" stroke-linecap="round"/>
<path d="M60.40,154.60C61.83,154.60 67.13,154.68 69.00,154.60C70.87,154.52 71.00,154.50 71.60,154.10C72.20,153.70 72.28,153.20 72.60,152.20C72.92,151.20 73.25,149.45 73.50,148.10C73.75,146.75 73.90,145.45 74.10,144.10C74.30,142.75 74.50,142.10 74.70,140.00C74.90,137.90 75.12,134.50 75.30,131.50C75.48,128.50 75.62,125.42 75.80,122.00C75.98,118.58 76.20,115.00 76.40,111.00C76.60,107.00 76.80,102.08 77.00,98.00C77.20,93.92 77.38,89.92 77.60,86.50C77.82,83.08 78.05,80.33 78.30,77.50C78.55,74.67 78.80,72.00 79.10,69.50C79.40,67.00 79.75,64.15 80.10,62.50C80.45,60.85 80.82,59.62 81.20,59.60C81.58,59.58 81.98,60.70 82.40,62.40C82.82,64.10 83.28,67.23 83.70,69.80C84.12,72.37 84.50,75.20 84.90,77.80C85.30,80.40 85.70,82.87 86.10,85.40C86.50,87.93 86.92,90.45 87.30,93.00C87.68,95.55 88.03,98.28 88.40,100.70C88.77,103.12 89.17,105.53 89.50,107.50C89.83,109.47 90.12,111.02 90.40,112.50C90.68,113.98 90.90,115.15 91.20,116.40C91.50,117.65 91.83,118.90 92.20,120.00C92.57,121.10 93.02,122.00 93.40,123.00C93.78,124.00 94.20,125.03 94.50,126.00C94.80,126.97 94.95,127.87 95.20,128.80C95.45,129.73 95.67,130.68 96.00,131.60C96.33,132.52 96.75,133.37 97.20,134.30C97.65,135.23 98.22,136.48 98.70,137.20C99.18,137.92 99.87,138.37 100.10,138.60 L101.50,141.00 L102.80,143.40 L104.20,144.70 L105.60,147.10 L107.00,145.40 L108.30,147.80 L109.70,150.50 L111.10,151.60 L112.40,151.90 L113.80,151.20 L115.20,150.90 L116.50,151.90 L117.90,152.30 L119.30,153.60 L120.90,152.30 L122.40,153.60 L124.60,153.00 L126.80,152.30 L128.30,154.20 L130.50,153.90 L132.70,153.50 L135.60,154.20 L138.60,153.50 L140.10,152.60 L143.70,154.20 L145.50,154.32 L147.00,154.44 L148.50,154.25 L150.00,154.42 L151.50,154.44 L153.00,154.33 L153.75,152.25 L154.50,154.39 L155.25,154.43 L156.75,154.53 L158.25,154.45 L159.75,154.11 L161.25,154.11 L162.75,154.22 L164.25,154.51 L165.75,154.47 L167.25,154.53 L168.75,154.60 L169.50,152.80 L170.25,154.48 L171.00,154.10 L172.50,154.55 L174.00,154.57 L175.50,154.41 L176.25,152.27 L177.00,154.59 L177.75,154.39 L179.25,154.53 L180.75,154.55 L182.25,154.28 L183.75,154.40 L185.25,154.42 L186.75,154.33 L187.50,152.78 L188.25,154.55 L189.00,154.13 L190.50,154.37 L191.20,154.60 L192.10,145.40 L193.00,154.60 L193.60,154.16 L195.10,154.20 L196.60,154.38 L197.35,152.29 L198.10,154.53 L198.85,154.43 L199.60,151.81 L200.35,154.48 L200.40,154.60 L201.30,148.30 L202.20,154.60 L202.80,154.47 L204.30,154.55 L205.80,154.53 L207.30,154.12 L208.80,154.55 L210.30,154.52 L211.80,154.54 L213.30,154.56 L214.80,154.48 L216.30,154.13 L217.80,154.21 L219.30,154.33 L220.80,154.56 L221.55,153.44 L222.30,154.45 L223.05,154.13 L224.55,154.41 L225.30,153.29 L226.05,154.42" fill="none" stroke="#aa2040" stroke-width="1.15" stroke-linejoin="round" stroke-linecap="round"/>
<path d="M60.40,154.60C62.58,154.60 70.85,154.60 73.50,154.60C76.15,154.60 75.47,154.87 76.30,154.60C77.13,154.33 77.83,153.60 78.50,153.00C79.17,152.40 79.72,151.75 80.30,151.00C80.88,150.25 81.43,149.45 82.00,148.50C82.57,147.55 83.12,146.38 83.70,145.30C84.28,144.22 84.90,143.18 85.50,142.00C86.10,140.82 86.68,139.50 87.30,138.20C87.92,136.90 88.50,135.53 89.20,134.20C89.90,132.87 90.70,131.30 91.50,130.20C92.30,129.10 93.15,128.23 94.00,127.60C94.85,126.97 95.70,126.57 96.60,126.40C97.50,126.23 98.55,126.38 99.40,126.60C100.25,126.82 100.93,127.30 101.70,127.70C102.47,128.10 103.23,128.52 104.00,129.00C104.77,129.48 105.53,130.05 106.30,130.60C107.07,131.15 107.85,131.73 108.60,132.30C109.35,132.87 109.93,133.23 110.80,134.00C111.67,134.77 112.95,136.12 113.80,136.90C114.65,137.68 115.20,138.15 115.90,138.70C116.60,139.25 117.28,139.72 118.00,140.20C118.72,140.68 119.47,141.08 120.20,141.60C120.93,142.12 121.67,142.77 122.40,143.30C123.13,143.83 123.87,144.30 124.60,144.80C125.33,145.30 126.07,145.85 126.80,146.30C127.53,146.75 128.27,147.12 129.00,147.50C129.73,147.88 130.47,148.25 131.20,148.60C131.93,148.95 132.67,149.32 133.40,149.60C134.13,149.88 134.85,150.10 135.60,150.30C136.35,150.50 137.15,150.63 137.90,150.80C138.65,150.97 139.13,151.17 140.10,151.30C141.07,151.43 143.10,151.55 143.70,151.60 L145.50,151.67 L147.28,151.68 L148.86,151.69 L150.74,151.70 L152.35,151.23 L153.70,152.29 L155.18,151.17 L156.36,151.91 L157.71,151.96 L158.87,151.87 L160.70,150.79 L162.41,152.58 L163.84,151.65 L165.08,152.12 L166.55,152.43 L168.45,152.73 L170.46,152.29 L172.11,152.80 L173.70,152.75 L174.86,152.70 L176.20,152.07 L177.52,152.75 L179.50,152.22 L181.35,153.04 L183.17,153.17 L184.75,153.06 L186.06,152.23 L188.03,153.34 L189.51,152.96 L191.00,153.21 L192.49,153.62 L193.70,153.42 L195.77,153.13 L197.36,153.61 L199.20,153.60 L200.90,153.73 L202.62,153.78 L203.91,153.92 L205.92,153.68 L207.61,154.07 L208.83,154.15 L210.73,153.99 L212.21,153.46 L213.98,154.06 L216.02,153.95 L218.09,154.18 L219.77,153.47 L221.37,154.53 L222.72,153.58 L224.00,154.60" fill="none" stroke="#33477a" stroke-width="1.15" stroke-linejoin="round" stroke-linecap="round"/>
<path d="M60.40,154.60C62.17,154.60 68.85,154.62 71.00,154.60C73.15,154.58 72.58,154.68 73.30,154.50C74.02,154.32 74.57,153.95 75.30,153.50C76.03,153.05 76.95,152.50 77.70,151.80C78.45,151.10 79.18,150.18 79.80,149.30C80.42,148.42 80.87,147.50 81.40,146.50C81.93,145.50 82.47,144.33 83.00,143.30C83.53,142.27 84.12,141.20 84.60,140.30C85.08,139.40 85.38,138.93 85.90,137.90C86.42,136.87 87.00,135.40 87.70,134.10C88.40,132.80 89.22,131.22 90.10,130.10C90.98,128.98 92.18,128.02 93.00,127.40C93.82,126.78 94.32,126.62 95.00,126.40C95.68,126.18 96.37,126.07 97.10,126.10C97.83,126.13 98.63,126.33 99.40,126.60C100.17,126.87 100.93,127.30 101.70,127.70C102.47,128.10 103.23,128.52 104.00,129.00C104.77,129.48 105.53,130.05 106.30,130.60C107.07,131.15 107.85,131.73 108.60,132.30C109.35,132.87 109.93,133.23 110.80,134.00C111.67,134.77 112.95,136.12 113.80,136.90C114.65,137.68 115.20,138.15 115.90,138.70C116.60,139.25 117.28,139.72 118.00,140.20C118.72,140.68 119.47,141.08 120.20,141.60C120.93,142.12 121.67,142.77 122.40,143.30C123.13,143.83 123.87,144.30 124.60,144.80C125.33,145.30 126.07,145.85 126.80,146.30C127.53,146.75 128.27,147.12 129.00,147.50C129.73,147.88 130.47,148.25 131.20,148.60C131.93,148.95 132.67,149.32 133.40,149.60C134.13,149.88 134.85,150.10 135.60,150.30C136.35,150.50 137.15,150.63 137.90,150.80C138.65,150.97 139.13,151.17 140.10,151.30C141.07,151.43 143.10,151.55 143.70,151.60 L145.50,150.08 L146.75,152.03 L148.83,151.75 L150.07,151.77 L151.52,150.43 L152.86,151.68 L154.29,151.11 L156.30,151.97 L158.31,151.04 L159.48,151.96 L161.16,151.93 L162.47,152.09 L164.15,150.78 L166.01,152.15 L167.67,151.38 L169.38,152.69 L171.42,152.51 L173.29,152.61 L175.03,152.86 L176.95,152.85 L178.24,153.09 L179.87,153.20 L181.88,152.62 L183.50,153.18 L185.25,152.21 L186.67,153.30 L188.35,153.12 L190.04,153.36 L191.58,152.75 L193.20,153.65 L195.28,153.29 L196.81,153.65 L198.83,152.64 L200.44,153.78 L201.65,152.81 L202.94,153.81 L204.39,153.65 L205.85,154.05 L207.01,153.47 L208.89,153.98 L210.21,153.38 L211.38,154.16 L213.29,153.19 L214.85,154.11 L216.45,153.82 L218.13,154.17 L219.97,154.01 L221.79,154.44 L223.24,153.72" fill="none" stroke="#3d5f98" stroke-width="1.15" stroke-linejoin="round" stroke-linecap="round"/>
<path d="M321.00,154.60C323.17,154.60 331.42,154.60 334.00,154.60C336.58,154.60 335.67,154.73 336.50,154.60C337.33,154.47 338.03,154.15 339.00,153.80C339.97,153.45 341.08,152.95 342.30,152.50C343.52,152.05 345.00,151.45 346.30,151.10C347.60,150.75 348.65,150.57 350.10,150.40C351.55,150.23 353.43,150.17 355.00,150.10C356.57,150.03 357.83,150.02 359.50,150.00C361.17,149.98 363.13,149.97 365.00,150.00C366.87,150.03 367.98,150.08 370.70,150.20C373.42,150.32 377.75,150.52 381.30,150.70C384.85,150.88 388.55,151.08 392.00,151.30C395.45,151.52 399.00,151.80 402.00,152.00C405.00,152.20 408.67,152.42 410.00,152.50 L412.00,152.22 L413.31,152.54 L415.31,152.41 L417.07,152.85 L418.40,152.65 L420.19,152.92 L422.24,152.96 L423.55,153.03 L425.41,152.73 L426.98,153.04 L428.71,152.77 L430.03,153.07 L431.44,153.12 L433.35,153.07 L435.11,152.43 L436.61,153.23 L438.14,152.98 L439.90,153.42 L441.46,152.92 L442.92,153.48 L444.71,153.52 L446.37,153.52 L447.53,153.41 L448.71,153.57 L450.49,152.93 L451.96,153.49 L453.53,153.22 L455.49,153.67 L457.45,153.12 L459.22,153.85 L460.42,153.84 L461.88,153.62 L463.84,153.11 L465.07,153.77 L466.93,153.21 L468.82,154.02 L470.11,153.30 L471.94,153.86 L473.48,153.28 L474.74,153.91 L476.71,153.90 L477.89,154.10 L479.67,153.95 L480.85,154.25 L482.76,154.28 L484.78,154.34 L486.10,154.33 L488.16,154.22 L489.58,154.43 L491.33,154.30 L492.46,153.96" fill="none" stroke="#5a2e68" stroke-width="1.15" stroke-linejoin="round" stroke-linecap="round"/>
<path d="M321.00,154.60C322.83,154.60 329.68,154.63 332.00,154.60C334.32,154.57 333.87,154.67 334.90,154.40C335.93,154.13 336.97,153.55 338.20,153.00C339.43,152.45 340.95,151.67 342.30,151.10C343.65,150.53 345.02,150.00 346.30,149.60C347.58,149.20 348.72,148.93 350.00,148.70C351.28,148.47 352.42,148.30 354.00,148.20C355.58,148.10 357.67,148.08 359.50,148.10C361.33,148.12 363.13,148.22 365.00,148.30C366.87,148.38 367.98,148.43 370.70,148.60C373.42,148.77 377.75,149.03 381.30,149.30C384.85,149.57 388.45,149.88 392.00,150.20C395.55,150.52 399.60,150.93 402.60,151.20C405.60,151.47 408.77,151.70 410.00,151.80 L412.00,151.21 L413.32,151.90 L414.92,151.81 L416.63,152.28 L417.94,151.87 L419.28,152.17 L420.80,152.00 L422.18,152.42 L423.99,151.47 L425.45,152.31 L426.87,151.73 L428.22,152.48 L429.73,151.68 L431.58,152.74 L432.79,152.26 L434.12,152.77 L436.15,151.79 L437.29,152.94 L439.01,151.86 L440.99,152.81 L442.82,152.53 L444.41,152.85 L445.63,152.38 L447.44,153.19 L449.30,153.10 L451.35,153.09 L452.91,152.71 L454.96,153.34 L456.28,152.68 L458.26,153.51 L460.12,153.16 L461.90,153.51 L463.93,153.05 L465.98,153.45 L467.22,152.71 L469.07,153.84 L470.74,153.61 L471.91,153.95 L473.38,152.97 L474.57,153.84 L476.53,153.68 L478.34,153.95 L480.19,153.64 L482.25,154.14 L483.57,154.17 L484.94,154.32 L486.96,154.26 L488.89,154.20 L490.46,154.46 L491.78,154.23" fill="none" stroke="#eca040" stroke-width="1.15" stroke-linejoin="round" stroke-linecap="round"/>
<path d="M321.00,154.60C322.83,154.60 329.40,154.78 332.00,154.60C334.60,154.42 335.30,154.10 336.60,153.50C337.90,152.90 338.72,151.83 339.80,151.00C340.88,150.17 342.02,149.28 343.10,148.50C344.18,147.72 345.32,146.87 346.30,146.30C347.28,145.73 348.02,145.40 349.00,145.10C349.98,144.80 351.15,144.67 352.20,144.50C353.25,144.33 354.08,144.17 355.30,144.10C356.52,144.03 358.30,144.03 359.50,144.10C360.70,144.17 361.30,144.25 362.50,144.50C363.70,144.75 365.33,145.28 366.70,145.60C368.07,145.92 369.15,146.13 370.70,146.40C372.25,146.67 374.23,146.93 376.00,147.20C377.77,147.47 379.52,147.68 381.30,148.00C383.08,148.32 384.92,148.73 386.70,149.10C388.48,149.47 390.23,149.87 392.00,150.20C393.77,150.53 395.53,150.83 397.30,151.10C399.07,151.37 400.48,151.60 402.60,151.80C404.72,152.00 408.77,152.22 410.00,152.30 L412.00,152.50 L413.68,152.50 L415.68,151.95 L417.30,152.39 L418.69,151.75 L420.22,152.56 L422.27,151.89 L423.97,152.61 L425.11,152.41 L427.06,152.70 L428.61,152.73 L430.07,152.89 L431.30,151.95 L433.04,152.93 L434.33,152.76 L435.85,153.14 L437.29,152.79 L439.12,152.94 L440.25,153.13 L442.19,153.34 L443.55,152.70 L445.19,153.34 L447.03,152.61 L448.15,153.24 L449.64,152.94 L451.31,153.34 L453.20,153.40 L454.50,153.58 L455.80,152.73 L457.74,153.60 L459.52,152.82 L461.47,153.54 L463.15,152.90 L464.58,153.68 L465.96,153.45 L467.44,153.79 L468.57,153.47 L470.16,153.71 L471.96,153.90 L473.46,153.85 L474.66,153.11 L475.83,153.93 L477.49,153.07 L478.96,154.14 L480.26,153.95 L481.68,154.11 L483.07,154.14 L485.02,154.38 L487.06,154.14 L488.91,154.23 L490.95,153.62 L492.08,154.30" fill="none" stroke="#6c707b" stroke-width="1.15" stroke-linejoin="round" stroke-linecap="round"/>
<path d="M321.00,154.60C322.33,154.60 327.28,154.60 329.00,154.60C330.72,154.60 330.72,154.78 331.30,154.60C331.88,154.42 332.10,154.37 332.50,153.50C332.90,152.63 333.37,151.43 333.70,149.40C334.03,147.37 334.27,144.02 334.50,141.30C334.73,138.58 334.88,135.98 335.10,133.10C335.32,130.22 335.57,127.68 335.80,124.00C336.03,120.32 336.25,114.97 336.50,111.00C336.75,107.03 336.98,104.03 337.30,100.20C337.62,96.37 338.02,92.57 338.40,88.00C338.78,83.43 339.23,77.05 339.60,72.80C339.97,68.55 340.25,64.88 340.60,62.50C340.95,60.12 341.32,58.52 341.70,58.50C342.08,58.48 342.52,60.02 342.90,62.40C343.28,64.78 343.62,69.80 344.00,72.80C344.38,75.80 344.80,77.87 345.20,80.40C345.60,82.93 346.00,85.40 346.40,88.00C346.80,90.60 347.23,93.47 347.60,96.00C347.97,98.53 348.28,101.07 348.60,103.20C348.92,105.33 349.13,106.92 349.50,108.80C349.87,110.68 350.35,112.35 350.80,114.50C351.25,116.65 351.67,119.28 352.20,121.70C352.73,124.12 353.47,127.07 354.00,129.00C354.53,130.93 354.85,131.85 355.40,133.30C355.95,134.75 356.73,136.48 357.30,137.70C357.87,138.92 358.27,139.68 358.80,140.60C359.33,141.52 360.22,142.77 360.50,143.20 L361.10,144.90 L362.10,146.60 L363.20,145.60 L364.30,148.30 L365.30,146.60 L366.30,149.40 L367.50,147.80 L368.50,150.20 L369.60,149.40 L371.00,151.30 L372.60,150.80 L374.30,152.40 L376.00,152.20 L378.00,153.40 L381.00,153.50 L384.00,154.60 L386.00,154.60 L387.50,154.60 L389.00,154.60 L390.50,154.42 L392.00,154.25 L393.50,154.57 L395.00,154.33 L396.50,154.60 L398.00,154.52 L399.50,154.33 L401.00,154.43 L402.50,154.57 L404.00,154.46 L404.75,152.12 L405.50,154.47 L406.25,154.42 L407.75,154.38 L409.25,154.60 L410.75,154.54 L412.25,154.28 L413.75,154.50 L415.25,154.41 L416.75,154.44 L418.25,154.28 L419.75,154.60 L420.50,153.13 L421.25,154.60 L422.00,154.37 L423.50,154.54 L425.00,154.35 L426.50,154.56 L427.25,152.39 L428.00,154.57 L428.75,154.60 L430.25,154.60 L431.75,154.22 L433.25,154.51 L434.75,154.24 L436.25,154.38 L437.75,154.55 L439.25,154.51 L440.75,154.35 L442.25,154.23 L443.75,154.60 L445.25,154.40 L446.75,154.47 L447.50,152.68 L448.25,154.60 L449.00,154.26 L450.50,154.20 L452.00,154.60 L453.50,154.60 L454.25,152.56 L455.00,154.54 L455.75,154.55 L457.25,154.57 L458.00,153.23 L458.75,154.60 L459.50,154.55 L460.25,152.11 L461.00,154.41 L460.10,154.60 L461.00,152.70 L461.90,154.60 L462.50,154.37 L464.00,154.60 L465.50,154.57 L467.00,154.45 L467.75,152.83 L468.50,154.60 L469.25,154.60 L470.75,154.21 L472.25,154.42 L473.75,154.54 L474.50,152.06 L475.25,154.51 L474.60,154.60 L475.50,151.50 L476.40,154.60 L477.00,154.60 L478.50,154.60 L480.00,154.47 L481.50,154.45 L482.25,152.30 L483.00,154.50 L483.75,154.28 L485.25,154.60 L486.75,154.60 L488.25,154.28 L489.75,154.44 L491.25,154.60 L492.00,152.80 L492.75,154.43" fill="none" stroke="#67b24f" stroke-width="1.15" stroke-linejoin="round" stroke-linecap="round"/>
<path d="M321.00,154.60C322.50,154.60 328.08,154.60 330.00,154.60C331.92,154.60 331.82,154.78 332.50,154.60C333.18,154.42 333.58,154.50 334.10,153.50C334.62,152.50 335.18,150.63 335.60,148.60C336.02,146.57 336.32,144.17 336.60,141.30C336.88,138.43 337.10,134.12 337.30,131.40C337.50,128.68 337.65,127.20 337.80,125.00C337.95,122.80 338.07,120.62 338.20,118.20C338.33,115.78 338.45,112.87 338.60,110.50C338.75,108.13 338.88,106.47 339.10,104.00C339.32,101.53 339.58,98.37 339.90,95.70C340.22,93.03 340.62,90.55 341.00,88.00C341.38,85.45 341.82,82.85 342.20,80.40C342.58,77.95 342.90,75.10 343.30,73.30C343.70,71.50 344.17,69.68 344.60,69.60C345.03,69.52 345.47,71.00 345.90,72.80C346.33,74.60 346.75,77.87 347.20,80.40C347.65,82.93 348.12,85.45 348.60,88.00C349.08,90.55 349.67,93.45 350.10,95.70C350.53,97.95 350.83,99.55 351.20,101.50C351.57,103.45 351.88,105.23 352.30,107.40C352.72,109.57 353.23,112.12 353.70,114.50C354.17,116.88 354.57,119.28 355.10,121.70C355.63,124.12 356.28,126.85 356.90,129.00C357.52,131.15 358.13,132.93 358.80,134.60C359.47,136.27 360.18,137.78 360.90,139.00C361.62,140.22 362.37,141.07 363.10,141.90C363.83,142.73 364.57,143.37 365.30,144.00C366.03,144.63 366.78,145.17 367.50,145.70C368.22,146.23 368.90,146.75 369.60,147.20C370.30,147.65 370.98,148.03 371.70,148.40C372.42,148.77 373.53,149.23 373.90,149.40 L375.80,151.20 L377.50,150.20 L379.40,152.40 L381.00,151.80 L382.40,154.60 L384.50,152.40 L386.70,153.00 L388.80,154.40 L390.90,154.60 L394.00,152.70 L396.20,154.40 L398.30,154.60 L400.50,153.30 L402.60,152.30 L404.80,154.40 L407.00,153.30 L410.00,153.80 L412.00,154.28 L413.50,154.38 L415.00,154.21 L416.50,154.41 L418.00,154.41 L419.50,154.30 L421.00,154.37 L422.50,154.42 L424.00,154.60 L424.75,153.16 L425.50,154.44 L426.25,154.60 L427.00,152.94 L427.75,154.57 L428.50,154.33 L430.00,154.40 L430.75,152.37 L431.50,154.50 L432.25,154.60 L433.75,154.45 L435.25,154.50 L436.75,154.32 L438.25,154.60 L439.75,154.21 L441.25,154.59 L442.75,154.45 L443.50,151.87 L444.25,154.51 L445.00,154.55 L446.50,154.46 L448.00,154.59 L449.50,154.44 L451.00,154.60 L452.50,154.36 L454.00,154.53 L454.75,152.90 L455.50,154.60 L456.25,154.52 L457.00,152.69 L457.75,154.52 L458.50,154.60 L460.00,154.46 L461.50,154.53 L463.00,154.60 L464.20,154.60 L465.10,150.30 L466.00,154.60 L466.60,154.35 L468.10,154.60 L469.50,154.60 L470.40,151.70 L471.30,154.60 L471.90,154.43 L473.40,154.47 L474.90,154.41 L475.65,151.99 L476.40,154.43 L477.15,154.51 L478.65,154.41 L480.15,154.58 L481.65,154.33 L483.15,154.60 L484.70,154.60 L485.60,149.80 L486.50,154.60 L487.10,154.31 L488.60,154.57 L489.35,153.71 L490.10,154.44 L489.70,154.60 L490.60,152.10 L491.50,154.60 L492.10,154.60" fill="none" stroke="#aa2040" stroke-width="1.15" stroke-linejoin="round" stroke-linecap="round"/>
<path d="M321.00,154.60C323.00,154.60 330.53,154.60 333.00,154.60C335.47,154.60 334.93,154.77 335.80,154.60C336.67,154.43 337.40,154.20 338.20,153.60C339.00,153.00 339.78,152.10 340.60,151.00C341.42,149.90 342.28,148.48 343.10,147.00C343.92,145.52 344.68,143.73 345.50,142.10C346.32,140.47 347.12,138.85 348.00,137.20C348.88,135.55 349.85,133.53 350.80,132.20C351.75,130.87 352.62,129.97 353.70,129.20C354.78,128.43 356.25,127.92 357.30,127.60C358.35,127.28 359.02,127.25 360.00,127.30C360.98,127.35 362.32,127.55 363.20,127.90C364.08,128.25 364.42,128.72 365.30,129.40C366.18,130.08 367.97,131.57 368.50,132.00 L370.00,133.20 L371.70,134.10 L373.20,135.90 L374.90,136.80 L376.50,138.60 L378.10,139.30 L379.70,141.20 L381.30,142.00 L383.00,143.40 L384.50,143.50 L386.00,145.20 L387.70,145.20 L389.30,146.80 L390.90,146.80 L392.50,148.00 L394.10,147.80 L395.70,149.40 L397.30,149.30 L399.00,150.60 L400.50,150.40 L402.50,151.30 L404.80,151.00 L407.00,151.90 L410.00,151.70 L412.00,151.96 L413.86,152.41 L415.25,151.94 L417.23,152.40 L418.92,152.45 L420.21,152.33 L421.86,151.66 L423.40,152.50 L424.72,152.43 L425.89,152.71 L427.44,151.99 L429.27,152.60 L431.17,151.89 L432.30,152.58 L433.89,152.38 L435.10,152.96 L436.28,152.93 L438.16,152.95 L440.03,151.78 L441.74,153.12 L443.02,151.89 L444.61,153.14 L446.65,153.10 L448.61,153.39 L450.15,152.97 L452.20,153.30 L453.87,152.41 L455.59,153.23 L457.49,153.54 L458.75,153.50 L460.24,152.57 L461.50,153.33 L463.40,152.89 L464.77,153.50 L466.57,152.67 L467.98,153.59 L469.29,153.32 L470.55,153.88 L472.57,152.65 L473.84,153.81 L474.97,153.61 L476.51,154.06 L477.67,153.24 L479.65,151.24 L481.13,151.28 L482.94,154.03 L484.36,153.04 L486.25,154.08 L487.97,150.56 L490.00,154.27 L491.59,153.61" fill="none" stroke="#3d5f98" stroke-width="1.15" stroke-linejoin="round" stroke-linecap="round"/>
<path d="M60.40,352.00C62.17,352.00 68.70,352.02 71.00,352.00C73.30,351.98 73.27,352.27 74.20,351.90C75.13,351.53 75.88,350.95 76.60,349.80C77.32,348.65 77.85,347.08 78.50,345.00C79.15,342.92 79.85,340.17 80.50,337.30C81.15,334.43 81.83,330.68 82.40,327.80C82.97,324.92 83.40,322.80 83.90,320.00C84.40,317.20 84.75,313.67 85.40,311.00C86.05,308.33 86.98,305.90 87.80,304.00C88.62,302.10 89.57,300.53 90.30,299.60C91.03,298.67 91.45,298.30 92.20,298.40C92.95,298.50 93.95,299.10 94.80,300.20C95.65,301.30 96.47,303.37 97.30,305.00C98.13,306.63 98.95,308.30 99.80,310.00C100.65,311.70 101.55,313.48 102.40,315.20C103.25,316.92 104.05,318.70 104.90,320.30C105.75,321.90 106.65,323.38 107.50,324.80C108.35,326.22 109.35,327.78 110.00,328.80C110.65,329.82 111.17,330.55 111.40,330.90 L114.30,334.30 L115.80,335.10 L117.30,337.80 L118.80,338.20 L120.20,340.20 L121.70,340.70 L123.10,342.60 L124.60,342.90 L126.00,344.40 L127.50,344.20 L128.90,345.60 L130.40,345.50 L131.80,347.20 L133.50,347.20 L135.30,349.00 L137.60,348.80 L140.00,350.30 L142.00,350.63 L143.50,350.82 L144.25,347.92 L145.00,350.82 L145.75,350.86 L147.25,350.71 L148.75,350.89 L149.50,348.36 L150.25,350.82 L151.00,350.76 L152.50,350.64 L154.00,350.92 L154.75,349.63 L155.50,350.91 L156.25,350.78 L157.20,351.14 L158.10,346.54 L159.00,351.14 L159.60,350.72 L161.10,350.89 L161.85,349.52 L162.60,350.97 L163.35,350.94 L163.50,351.21 L164.40,347.11 L165.30,351.21 L165.90,351.17 L166.65,349.25 L167.40,351.15 L168.15,351.20 L169.65,351.19 L171.15,351.20 L171.90,349.02 L172.65,351.21 L173.40,350.98 L174.90,350.83 L176.40,351.06 L177.90,351.22 L179.40,351.18 L180.90,351.03 L182.40,350.95 L183.90,351.13 L184.65,349.74 L185.40,351.12 L186.15,351.31 L187.65,351.16 L188.40,350.25 L189.15,351.21 L189.90,351.14 L191.40,351.22 L192.90,351.13 L194.40,351.21 L195.90,351.52 L196.65,350.31 L197.40,351.29 L198.15,351.21 L199.65,351.36 L201.15,351.46 L202.65,351.57 L204.15,351.16 L205.65,351.29 L207.15,351.20 L208.65,351.49 L209.40,349.29 L210.15,351.54 L210.90,351.53 L212.40,351.36 L213.90,351.66 L215.40,351.38 L216.90,351.27 L218.40,351.68 L219.90,351.67 L221.40,351.46 L222.00,351.76 L222.90,346.56 L223.80,351.76 L224.40,351.53 L225.15,349.33 L225.90,351.62 L226.65,351.73 L228.15,351.58 L228.90,349.91 L229.65,351.71 L230.40,351.56 L231.15,350.54 L231.90,351.55 L232.65,351.86 L233.40,349.09 L234.15,351.61 L234.90,351.66 L236.40,351.59 L237.90,351.68 L239.40,351.55 L240.90,351.92 L242.40,351.49 L243.90,351.96 L245.40,351.62" fill="none" stroke="#67b24f" stroke-width="1.15" stroke-linejoin="round" stroke-linecap="round"/>
<path d="M60.40,352.00C62.00,352.00 67.98,352.00 70.00,352.00C72.02,352.00 71.63,352.13 72.50,352.00C73.37,351.87 74.43,352.22 75.20,351.20C75.97,350.18 76.57,348.22 77.10,345.90C77.63,343.58 77.97,340.20 78.40,337.30C78.83,334.40 79.28,331.47 79.70,328.50C80.12,325.53 80.48,322.42 80.90,319.50C81.32,316.58 81.73,313.58 82.20,311.00C82.67,308.42 83.17,306.25 83.70,304.00C84.23,301.75 84.83,299.62 85.40,297.50C85.97,295.38 86.55,293.32 87.10,291.30C87.65,289.28 88.18,286.85 88.70,285.40C89.22,283.95 89.67,282.77 90.20,282.60C90.73,282.43 91.25,283.37 91.90,284.40C92.55,285.43 93.42,287.22 94.10,288.80C94.78,290.38 95.37,292.00 96.00,293.90C96.63,295.80 97.27,298.08 97.90,300.20C98.53,302.32 99.17,304.50 99.80,306.60C100.43,308.70 101.05,310.85 101.70,312.80C102.35,314.75 103.00,316.52 103.70,318.30C104.40,320.08 105.15,321.88 105.90,323.50C106.65,325.12 107.82,327.25 108.20,328.00 L110.60,332.00 L112.00,333.80 L113.20,336.50 L114.40,337.50 L115.50,340.10 L117.00,340.70 L118.40,343.10 L119.80,343.40 L121.30,345.50 L123.00,345.60 L124.80,347.20 L126.50,347.30 L128.30,349.00 L130.50,349.10 L133.00,350.30 L135.00,350.75 L136.50,350.41 L138.00,350.45 L139.50,350.62 L141.00,350.83 L142.50,350.57 L144.00,350.81 L145.50,350.51 L147.00,350.89 L148.50,350.48 L150.00,350.59 L151.50,350.63 L153.00,350.94 L154.50,350.61 L156.00,350.68 L157.50,350.78 L159.00,350.98 L159.75,349.28 L160.50,350.77 L161.25,351.06 L162.75,350.70 L164.25,350.93 L165.75,350.90 L166.50,348.85 L167.25,350.89 L168.00,351.15 L168.75,348.90 L169.50,350.87 L170.25,351.15 L171.75,351.10 L173.30,351.20 L174.20,348.20 L175.10,351.20 L175.70,351.06 L177.20,351.02 L177.95,348.67 L178.70,351.21 L179.45,351.03 L180.95,351.29 L181.70,349.78 L182.45,351.01 L183.20,351.22 L184.70,351.28 L185.45,348.90 L186.20,351.23 L186.95,351.24 L188.45,351.11 L189.95,350.91 L191.45,351.09 L192.95,351.15 L193.70,349.44 L194.45,351.13 L195.20,350.99 L196.70,351.11 L198.20,351.07 L199.70,351.47 L201.20,351.38 L202.70,351.22 L204.20,351.51 L205.70,351.48 L207.20,351.27 L208.70,351.29 L210.20,351.32 L211.00,351.61 L211.90,346.41 L212.80,351.61 L213.40,351.54 L214.15,350.05 L214.90,351.45 L214.10,351.65 L215.00,347.05 L215.90,351.65 L216.50,351.51 L218.00,351.63 L218.75,349.26 L219.50,351.46 L220.25,351.58 L221.75,351.42 L223.25,351.56 L224.75,351.29 L226.25,351.46 L227.75,351.45 L229.25,351.34 L230.75,351.65 L231.50,349.25 L232.25,351.72 L233.00,351.73 L234.50,351.64 L236.00,351.59 L237.50,351.67 L239.00,351.48 L240.50,351.59 L242.00,351.67 L243.50,351.88 L244.25,348.83 L245.00,351.84 L245.75,351.85 L246.50,350.48 L247.25,351.89" fill="none" stroke="#5a2e68" stroke-width="1.15" stroke-linejoin="round" stroke-linecap="round"/>
<path d="M60.40,352.00C61.83,352.00 67.10,352.00 69.00,352.00C70.90,352.00 70.93,352.28 71.80,352.00C72.67,351.72 73.57,351.32 74.20,350.30C74.83,349.28 75.15,348.07 75.60,345.90C76.05,343.73 76.50,340.28 76.90,337.30C77.30,334.32 77.62,330.88 78.00,328.00C78.38,325.12 78.80,322.93 79.20,320.00C79.60,317.07 80.03,314.12 80.40,310.40C80.77,306.68 81.10,300.93 81.40,297.70C81.70,294.47 81.93,293.33 82.20,291.00C82.47,288.67 82.68,286.43 83.00,283.70C83.32,280.97 83.75,277.35 84.10,274.60C84.45,271.85 84.72,269.08 85.10,267.20C85.48,265.32 85.95,263.50 86.40,263.30C86.85,263.10 87.17,264.12 87.80,266.00C88.43,267.88 89.48,271.90 90.20,274.60C90.92,277.30 91.55,280.05 92.10,282.20C92.65,284.35 92.97,285.70 93.50,287.50C94.03,289.30 94.80,291.25 95.30,293.00C95.80,294.75 96.08,296.08 96.50,298.00C96.92,299.92 97.33,302.33 97.80,304.50C98.27,306.67 98.80,308.87 99.30,311.00C99.80,313.13 100.23,315.25 100.80,317.30C101.37,319.35 102.07,321.55 102.70,323.30C103.33,325.05 103.90,326.38 104.60,327.80C105.30,329.22 106.52,331.13 106.90,331.80 L108.60,333.90 L109.70,336.60 L111.00,337.20 L112.00,339.00 L113.20,339.60 L114.30,341.40 L115.50,342.00 L116.70,343.70 L118.00,344.30 L119.00,346.00 L120.20,346.50 L121.30,348.30 L123.00,348.40 L124.80,349.60 L127.00,349.50 L129.00,350.60 L131.00,350.52 L132.50,350.58 L134.00,350.65 L135.50,350.92 L137.00,350.77 L138.50,350.84 L140.00,350.61 L141.50,350.94 L143.00,351.04 L144.50,350.86 L145.25,348.06 L146.00,351.01 L146.75,350.96 L148.25,350.87 L149.00,348.23 L149.75,350.94 L150.50,350.87 L151.25,349.04 L152.00,351.15 L152.75,350.92 L154.25,350.86 L155.75,351.04 L157.25,351.17 L158.75,350.99 L160.25,350.94 L161.75,351.17 L162.50,348.73 L163.25,351.15 L164.00,351.10 L164.75,348.19 L165.50,351.16 L166.25,350.94 L167.75,351.16 L169.25,351.16 L170.75,351.28 L172.25,351.12 L173.00,350.17 L173.75,351.08 L174.50,351.35 L175.25,349.34 L176.00,351.24 L176.75,351.28 L178.25,351.04 L179.75,351.27 L181.25,350.97 L182.75,351.27 L183.50,349.65 L184.25,351.15 L185.00,351.45 L185.75,348.28 L186.50,351.42 L187.25,351.34 L188.00,348.71 L188.75,351.34 L189.50,351.05 L191.00,351.04 L192.50,351.13 L194.00,351.46 L195.50,351.35 L196.25,349.18 L197.00,351.37 L197.75,351.31 L199.25,351.35 L200.75,351.41 L202.25,351.16 L203.75,351.59 L205.25,351.22 L206.75,351.55 L208.25,351.57 L209.75,351.66 L211.25,351.39 L212.75,351.42 L214.25,351.26 L215.75,351.54 L216.50,349.98 L217.25,351.52 L218.00,351.55 L219.50,351.31 L220.20,351.77 L221.10,348.27 L222.00,351.77 L222.60,351.40 L224.10,351.71 L224.85,348.89 L225.60,351.73 L226.35,351.66 L227.85,351.56 L229.35,351.39 L230.85,351.59 L232.35,351.55 L233.85,351.86 L235.35,351.67 L236.85,351.56 L237.50,351.92 L238.40,347.82 L239.30,351.92 L239.90,351.51 L241.40,351.88 L242.90,351.65 L244.40,351.98 L245.90,351.76" fill="none" stroke="#eca040" stroke-width="1.15" stroke-linejoin="round" stroke-linecap="round"/>
<path d="M60.40,352.00C61.67,352.00 66.18,352.00 68.00,352.00C69.82,352.00 70.43,352.20 71.30,352.00C72.17,351.80 72.67,351.82 73.20,350.80C73.73,349.78 74.15,348.15 74.50,345.90C74.85,343.65 75.07,340.35 75.30,337.30C75.53,334.25 75.72,330.73 75.90,327.60C76.08,324.47 76.17,321.37 76.40,318.50C76.63,315.63 76.98,313.87 77.30,310.40C77.62,306.93 78.00,301.60 78.30,297.70C78.60,293.80 78.85,290.03 79.10,287.00C79.35,283.97 79.55,282.58 79.80,279.50C80.05,276.42 80.32,272.12 80.60,268.50C80.88,264.88 81.18,261.22 81.50,257.80C81.82,254.38 82.17,250.32 82.50,248.00C82.83,245.68 83.17,244.02 83.50,243.90C83.83,243.78 84.10,245.48 84.50,247.30C84.90,249.12 85.43,252.03 85.90,254.80C86.37,257.57 86.82,260.87 87.30,263.90C87.78,266.93 88.32,270.15 88.80,273.00C89.28,275.85 89.72,278.17 90.20,281.00C90.68,283.83 91.25,287.30 91.70,290.00C92.15,292.70 92.38,294.65 92.90,297.20C93.42,299.75 94.17,302.88 94.80,305.30C95.43,307.72 96.07,309.65 96.70,311.70C97.33,313.75 98.00,315.88 98.60,317.60C99.20,319.32 99.88,320.50 100.30,322.00C100.72,323.50 100.85,325.17 101.10,326.60C101.35,328.03 101.68,329.93 101.80,330.60 L102.60,331.80 L103.80,332.60 L105.00,333.30 L106.20,334.50 L107.30,336.70 L108.50,337.80 L109.70,338.60 L110.80,340.20 L112.00,342.50 L113.20,343.60 L114.40,344.60 L115.50,346.00 L116.70,347.30 L117.80,347.80 L119.50,349.20 L121.30,349.60 L123.00,350.60 L124.80,350.30 L126.50,350.82 L128.00,350.86 L129.50,351.10 L131.00,350.96 L132.50,351.16 L133.25,349.78 L134.00,351.13 L134.75,351.20 L135.50,348.63 L136.25,350.97 L137.00,351.01 L138.50,350.99 L140.00,351.21 L141.50,351.10 L142.25,348.49 L143.00,351.05 L143.75,351.24 L145.25,351.22 L146.00,349.05 L146.75,351.14 L147.50,351.34 L148.25,350.29 L149.00,351.25 L149.75,350.89 L151.25,350.98 L152.75,351.29 L154.25,351.15 L155.75,351.29 L156.50,350.07 L157.25,351.31 L158.00,351.38 L159.50,351.23 L161.00,351.01 L162.50,351.09 L164.00,351.01 L165.50,351.17 L166.25,350.28 L167.00,351.37 L167.75,351.01 L169.25,351.23 L170.75,351.14 L172.25,351.24 L173.75,351.48 L175.25,351.50 L176.75,351.41 L178.25,351.52 L179.75,351.29 L180.50,349.78 L181.25,351.41 L182.00,351.50 L182.75,349.54 L183.50,351.33 L184.25,351.25 L185.75,351.43 L187.25,351.41 L188.75,351.25 L190.25,351.24 L191.75,351.60 L193.25,351.63 L194.75,351.31 L196.25,351.65 L197.75,351.58 L198.50,349.13 L199.25,351.57 L200.00,351.36 L201.50,351.47 L203.00,351.65 L204.50,351.59 L206.00,351.48 L207.50,351.59 L209.00,351.54 L210.50,351.72 L212.00,351.70 L213.50,351.56 L215.00,351.51 L216.50,351.75 L218.00,351.71 L218.75,350.63 L219.50,351.56 L220.25,351.77 L221.75,351.52 L223.25,351.37 L224.75,351.40 L226.25,351.86 L227.00,350.17 L227.75,351.68 L226.60,351.87 L227.50,346.67 L228.40,351.87 L229.00,351.78 L230.50,351.84 L232.00,351.69 L233.50,351.59 L235.00,351.88 L235.75,350.06 L236.50,351.66 L237.25,351.58 L238.75,351.64 L240.25,351.78 L241.75,351.81 L242.70,351.97 L243.60,341.17 L244.50,351.97 L245.10,351.80" fill="none" stroke="#5a5f70" stroke-width="1.15" stroke-linejoin="round" stroke-linecap="round"/>
<path d="M60.40,352.00C62.00,352.00 68.10,352.00 70.00,352.00C71.90,352.00 71.02,352.05 71.80,352.00C72.58,351.95 73.82,351.98 74.70,351.70C75.58,351.42 76.30,350.93 77.10,350.30C77.90,349.67 78.78,348.92 79.50,347.90C80.22,346.88 80.68,345.78 81.40,344.20C82.12,342.62 83.00,340.33 83.80,338.40C84.60,336.47 85.40,334.37 86.20,332.60C87.00,330.83 87.80,329.10 88.60,327.80C89.40,326.50 90.12,325.70 91.00,324.80C91.88,323.90 92.93,323.00 93.90,322.40C94.87,321.80 96.03,321.45 96.80,321.20C97.57,320.95 97.93,320.88 98.50,320.90C99.07,320.92 99.65,321.07 100.20,321.30C100.75,321.53 101.00,321.77 101.80,322.30C102.60,322.83 103.88,323.73 105.00,324.50C106.12,325.27 107.33,326.02 108.50,326.90C109.67,327.78 110.83,328.83 112.00,329.80C113.17,330.77 114.33,331.80 115.50,332.70C116.67,333.60 118.42,334.78 119.00,335.20 L120.70,336.20 L122.50,338.00 L124.20,339.10 L126.00,340.90 L127.70,341.80 L129.50,343.30 L131.20,343.80 L133.00,345.00 L134.70,345.40 L136.50,346.60 L138.50,346.30 L140.50,347.40 L142.00,346.90 L143.70,348.30 L145.40,348.40 L147.00,349.40 L148.80,349.10 L150.50,350.10 L153.50,350.40 L156.00,351.20 L158.10,351.00 L160.00,351.60 L160.75,350.01 L161.50,351.52 L162.25,351.26 L163.75,351.24 L165.25,351.19 L166.75,351.56 L168.25,351.40 L169.75,351.54 L171.25,351.56 L172.75,351.54 L174.25,351.58 L175.75,351.34 L177.25,351.66 L178.00,349.62 L178.75,351.49 L179.50,351.42 L181.00,351.31 L182.50,351.56 L184.00,351.55 L184.75,349.63 L185.50,351.44 L186.25,351.63 L187.75,351.37 L189.25,351.25 L190.75,351.49 L191.50,349.99 L192.25,351.46 L193.00,351.63 L194.50,351.60 L196.00,351.60 L197.50,351.54 L198.25,349.69 L199.00,351.63 L199.75,351.50 L201.25,351.79 L202.75,351.36 L204.25,351.41 L205.75,351.79 L207.25,351.58 L208.75,351.68 L209.50,350.45 L210.25,351.69 L211.00,351.66 L212.50,351.64 L214.00,351.36 L215.50,351.82 L216.25,349.33 L217.00,351.76 L217.75,351.65 L219.25,351.58 L220.00,350.91 L220.75,351.62 L221.50,351.72 L223.00,351.55 L224.50,351.85 L225.25,349.79 L226.00,351.84 L226.75,351.79 L228.25,351.58 L229.75,351.60 L231.25,351.45 L232.75,351.78 L233.50,349.24 L234.25,351.76 L235.00,351.75 L236.50,351.76 L237.25,350.32 L238.00,351.86 L238.75,351.62 L240.25,351.72 L241.00,350.83 L241.75,351.81 L242.50,351.82 L243.25,350.01 L244.00,351.77 L244.75,351.53" fill="none" stroke="#3d5f98" stroke-width="1.15" stroke-linejoin="round" stroke-linecap="round"/>
<path d="M321.00,352.00C322.67,352.00 329.02,352.03 331.00,352.00C332.98,351.97 332.27,352.04 332.90,351.85C333.53,351.66 333.97,351.73 334.80,350.85C335.63,349.98 337.00,348.23 337.90,346.59C338.80,344.96 339.42,343.09 340.20,341.06C340.98,339.02 341.68,337.27 342.60,334.38C343.52,331.49 344.68,326.86 345.70,323.73C346.72,320.61 347.55,317.86 348.70,315.64C349.85,313.41 351.17,311.57 352.60,310.38C354.03,309.20 355.75,308.42 357.30,308.54C358.85,308.66 361.13,310.67 361.90,311.09 L364.50,313.36 L365.95,316.26 L367.40,317.88 L368.85,320.59 L370.30,323.11 L371.75,325.12 L373.20,326.20 L374.65,330.46 L376.10,331.36 L377.55,334.87 L379.00,334.56 L380.45,336.28 L381.90,337.95 L383.35,338.78 L384.80,339.95 L386.25,341.85 L387.70,341.91 L389.15,343.54 L390.60,343.58 L392.05,344.43 L393.50,343.87 L394.95,346.73 L396.40,345.36 L397.85,348.30 L399.30,348.23 L400.75,348.37 L402.20,349.33 L403.65,350.06 L405.10,349.07 L406.55,350.23 L408.00,348.65 L409.45,351.01 L410.90,350.83 L412.35,351.47 L413.80,350.22 L415.25,351.88 L416.70,351.16 L418.15,351.31 L419.60,351.06 L421.05,352.00 L423.00,351.10 L424.50,351.35 L426.00,351.16 L427.50,351.21 L429.00,351.16 L429.75,350.18 L430.50,351.32 L431.25,351.45 L432.00,349.72 L432.75,351.35 L433.50,351.07 L435.00,351.23 L436.50,351.28 L438.00,351.25 L439.50,351.29 L441.00,351.28 L441.75,348.98 L442.50,351.39 L443.25,351.38 L444.75,351.47 L446.25,351.26 L447.75,351.45 L448.50,349.84 L449.25,351.56 L450.00,351.34 L451.50,351.43 L453.00,351.56 L453.75,348.80 L454.50,351.44 L455.25,351.46 L456.75,351.46 L458.25,351.47 L459.00,348.99 L459.75,351.58 L460.50,351.25 L462.00,351.45 L462.75,348.89 L463.50,351.44 L464.25,351.28 L465.75,351.55 L467.25,351.61 L468.75,351.38 L470.25,351.57 L471.00,349.87 L471.75,351.55 L472.50,351.45 L474.00,351.38 L475.50,351.49 L477.00,351.56 L478.50,351.64 L479.25,348.92 L480.00,351.78 L480.75,351.53 L482.25,351.35 L483.75,351.44 L485.25,351.71 L486.75,351.82 L487.50,349.77 L488.25,351.84 L489.00,351.39 L490.50,351.65 L492.00,351.89 L492.75,350.73 L493.50,351.67 L494.25,351.82 L495.00,350.02 L495.75,351.85 L496.50,351.82 L497.25,350.86 L498.00,351.63 L498.75,351.79 L499.50,349.23 L500.25,351.86 L501.00,351.71 L502.50,351.73 L504.00,351.77 L505.50,351.76" fill="none" stroke="#5a5f70" stroke-width="1.15" stroke-linejoin="round" stroke-linecap="round"/>
<path d="M321.00,352.00C322.67,352.00 328.95,352.01 331.00,352.00C333.05,351.99 332.60,352.11 333.30,351.96C334.00,351.81 334.37,351.86 335.20,351.09C336.03,350.33 337.40,348.81 338.30,347.39C339.20,345.97 339.82,344.34 340.60,342.57C341.38,340.80 342.08,339.28 343.00,336.77C343.92,334.26 345.08,330.22 346.10,327.51C347.12,324.79 347.95,322.40 349.10,320.47C350.25,318.53 351.57,316.93 353.00,315.90C354.43,314.87 356.15,314.19 357.70,314.29C359.25,314.39 361.53,316.14 362.30,316.51 L364.50,318.60 L365.95,320.38 L367.40,321.61 L368.85,324.35 L370.30,325.46 L371.75,327.48 L373.20,328.55 L374.65,331.96 L376.10,332.50 L377.55,334.62 L379.00,335.85 L380.45,337.33 L381.90,337.88 L383.35,339.46 L384.80,339.88 L386.25,341.72 L387.70,341.81 L389.15,342.60 L390.60,343.37 L392.05,345.42 L393.50,345.17 L394.95,346.70 L396.40,346.78 L397.85,347.75 L399.30,348.06 L400.75,348.28 L402.20,347.67 L403.65,350.07 L405.10,349.32 L406.55,349.50 L408.00,349.79 L409.45,351.41 L410.90,350.47 L412.35,350.97 L413.80,350.24 L415.25,351.41 L416.70,350.38 L418.15,350.48 L419.60,350.93 L421.05,350.64 L423.00,351.13 L423.75,348.80 L424.50,351.36 L425.25,350.93 L426.75,350.99 L428.25,351.19 L429.75,351.07 L431.25,351.22 L432.00,349.52 L432.75,351.41 L433.50,350.98 L435.00,351.39 L436.50,351.18 L438.00,351.02 L439.50,351.29 L441.00,351.35 L442.50,351.15 L444.00,351.51 L445.50,351.33 L447.00,351.16 L448.50,351.20 L450.00,351.53 L450.75,349.76 L451.50,351.53 L452.25,351.43 L453.75,351.26 L455.25,351.44 L456.75,351.48 L458.25,351.42 L459.75,351.34 L461.25,351.59 L462.75,351.43 L463.50,349.64 L464.25,351.68 L465.00,351.63 L466.50,351.47 L468.00,351.60 L468.75,349.18 L469.50,351.43 L470.25,351.48 L471.75,351.38 L473.25,351.39 L474.75,351.44 L476.25,351.60 L477.75,351.77 L479.25,351.74 L480.75,351.65 L481.50,350.16 L482.25,351.80 L483.00,351.67 L483.75,350.22 L484.50,351.68 L485.25,351.72 L486.75,351.78 L487.50,349.19 L488.25,351.82 L489.00,351.72 L490.50,351.78 L492.00,351.65 L493.50,351.71 L495.00,351.84 L495.75,348.94 L496.50,351.81 L497.25,351.80 L498.00,350.86 L498.75,351.79 L499.50,351.51 L501.00,351.89 L502.50,351.83 L504.00,351.65 L505.50,351.57" fill="none" stroke="#eca040" stroke-width="1.15" stroke-linejoin="round" stroke-linecap="round"/>
<path d="M321.00,352.00C322.67,352.00 328.89,352.00 331.00,352.00C333.11,352.00 332.89,352.12 333.65,352.00C334.41,351.88 334.72,351.94 335.55,351.27C336.38,350.60 337.75,349.23 338.65,347.97C339.55,346.70 340.17,345.26 340.95,343.68C341.73,342.10 342.43,340.75 343.35,338.51C344.27,336.27 345.43,332.68 346.45,330.26C347.47,327.84 348.30,325.71 349.45,323.99C350.60,322.27 351.92,320.84 353.35,319.92C354.78,319.00 356.50,318.40 358.05,318.49C359.60,318.58 361.88,320.14 362.65,320.47 L364.50,321.68 L365.95,323.38 L367.40,324.70 L368.85,326.28 L370.30,327.67 L371.75,329.24 L373.20,330.62 L374.65,331.95 L376.10,333.21 L377.55,334.99 L379.00,334.96 L380.45,336.49 L381.90,337.67 L383.35,339.60 L384.80,340.28 L386.25,342.06 L387.70,342.42 L389.15,342.59 L390.60,343.44 L392.05,345.53 L393.50,344.70 L394.95,347.02 L396.40,345.62 L397.85,348.41 L399.30,347.85 L400.75,349.50 L402.20,349.00 L403.65,349.40 L405.10,348.63 L406.55,350.54 L408.00,350.49 L409.45,351.22 L410.90,349.38 L412.35,351.59 L413.80,350.00 L415.25,351.16 L416.70,351.23 L418.15,351.68 L419.60,349.89 L421.05,351.04 L423.00,351.16 L423.75,349.72 L424.50,351.28 L425.25,351.37 L426.75,351.17 L428.25,351.33 L429.00,349.62 L429.75,351.20 L430.50,351.07 L432.00,351.32 L433.50,351.36 L434.25,349.43 L435.00,351.23 L435.75,351.27 L437.25,351.22 L438.00,349.68 L438.75,351.43 L439.50,351.24 L441.00,351.36 L441.75,349.44 L442.50,351.47 L443.25,351.35 L444.75,351.35 L446.25,351.40 L447.75,351.33 L449.25,351.29 L450.75,351.37 L452.25,351.53 L453.00,350.00 L453.75,351.37 L454.50,351.36 L456.00,351.51 L456.75,349.67 L457.50,351.40 L458.25,351.65 L459.00,349.46 L459.75,351.39 L460.50,351.61 L462.00,351.56 L463.50,351.35 L465.00,351.40 L465.75,350.33 L466.50,351.41 L467.25,351.63 L468.00,350.65 L468.75,351.49 L469.50,351.56 L470.25,350.62 L471.00,351.70 L471.75,351.29 L473.25,351.75 L474.75,351.37 L476.25,351.38 L477.75,351.71 L479.25,351.69 L480.00,350.54 L480.75,351.74 L481.50,351.66 L483.00,351.64 L484.50,351.55 L486.00,351.65 L487.50,351.61 L489.00,351.64 L490.50,351.47 L492.00,351.76 L493.50,351.79 L495.00,351.52 L496.50,351.62 L498.00,351.79 L499.50,351.53 L501.00,351.91 L502.50,351.91 L503.25,350.91 L504.00,351.93 L504.75,351.56 L506.25,351.73" fill="none" stroke="#5a2e68" stroke-width="1.15" stroke-linejoin="round" stroke-linecap="round"/>
<path d="M321.00,352.00C322.67,352.00 328.87,352.00 331.00,352.00C333.13,352.00 333.02,352.11 333.80,352.00C334.58,351.89 334.87,351.97 335.70,351.32C336.53,350.68 337.90,349.36 338.80,348.14C339.70,346.92 340.32,345.53 341.10,344.01C341.88,342.49 342.58,341.18 343.50,339.03C344.42,336.87 345.58,333.41 346.60,331.08C347.62,328.74 348.45,326.69 349.60,325.03C350.75,323.37 352.07,322.00 353.50,321.11C354.93,320.23 356.65,319.65 358.20,319.73C359.75,319.82 362.03,321.32 362.80,321.64 L364.50,323.31 L365.95,324.43 L367.40,325.01 L368.85,326.95 L370.30,328.23 L371.75,329.02 L373.20,330.19 L374.65,332.31 L376.10,332.28 L377.55,334.51 L379.00,334.74 L380.45,337.32 L381.90,337.38 L383.35,339.32 L384.80,339.74 L386.25,341.05 L387.70,342.29 L389.15,343.45 L390.60,343.49 L392.05,344.40 L393.50,344.34 L394.95,346.94 L396.40,346.73 L397.85,348.34 L399.30,346.93 L400.75,348.11 L402.20,349.23 L403.65,350.44 L405.10,349.70 L406.55,350.22 L408.00,349.78 L409.45,350.04 L410.90,349.43 L412.35,351.38 L413.80,349.32 L415.25,350.99 L416.70,350.83 L418.15,351.42 L419.60,349.56 L421.05,350.73 L423.00,351.40 L423.75,348.39 L424.50,351.30 L425.25,351.01 L426.75,351.18 L428.25,351.29 L429.00,349.29 L429.75,351.16 L430.50,351.34 L432.00,351.39 L433.50,351.01 L435.00,351.14 L436.50,351.26 L438.00,351.18 L439.50,351.35 L440.25,350.16 L441.00,351.40 L441.75,351.27 L443.25,351.33 L444.75,351.23 L446.25,351.17 L447.75,351.43 L449.25,351.37 L450.75,351.42 L452.25,351.31 L453.75,351.59 L455.25,351.61 L456.00,348.87 L456.75,351.56 L457.50,351.56 L459.00,351.59 L460.50,351.24 L462.00,351.61 L463.50,351.24 L465.00,351.61 L466.50,351.31 L468.00,351.59 L469.50,351.32 L471.00,351.45 L472.50,351.30 L474.00,351.57 L475.50,351.63 L477.00,351.77 L477.75,349.14 L478.50,351.54 L479.25,351.77 L480.75,351.68 L482.25,351.73 L483.75,351.62 L485.25,351.36 L486.75,351.36 L488.25,351.46 L489.75,351.42 L491.25,351.49 L492.75,351.49 L494.25,351.76 L495.75,351.69 L497.25,351.46 L498.75,351.84 L499.50,349.92 L500.25,351.76 L501.00,351.82 L502.50,351.50 L504.00,351.65 L505.50,351.76" fill="none" stroke="#67b24f" stroke-width="1.15" stroke-linejoin="round" stroke-linecap="round"/>
<path d="M321.00,352.00C322.67,352.00 328.92,352.00 331.00,352.00C333.08,352.00 332.77,352.10 333.50,352.00C334.23,351.90 334.57,352.00 335.40,351.40C336.23,350.80 337.60,349.55 338.50,348.40C339.40,347.25 340.02,345.93 340.80,344.50C341.58,343.07 342.28,341.83 343.20,339.80C344.12,337.77 345.28,334.50 346.30,332.30C347.32,330.10 348.15,328.17 349.30,326.60C350.45,325.03 351.77,323.73 353.20,322.90C354.63,322.07 356.35,321.52 357.90,321.60C359.45,321.68 361.73,323.10 362.50,323.40 L364.50,324.50 L365.95,326.26 L367.40,326.63 L368.85,327.98 L370.30,328.33 L371.75,330.10 L373.20,330.10 L374.65,333.37 L376.10,332.53 L377.55,335.64 L379.00,334.31 L380.45,336.85 L381.90,337.25 L383.35,339.68 L384.80,340.03 L386.25,341.08 L387.70,341.85 L389.15,343.91 L390.60,342.63 L392.05,345.29 L393.50,345.35 L394.95,347.01 L396.40,345.62 L397.85,348.06 L399.30,347.33 L400.75,349.44 L402.20,348.93 L403.65,348.88 L405.10,350.01 L406.55,350.69 L408.00,349.19 L409.45,351.42 L410.90,349.33 L412.35,351.62 L413.80,350.41 L415.25,350.33 L416.70,350.99 L418.15,350.95 L419.60,349.66 L421.05,350.86 L423.00,351.14 L424.50,351.35 L425.25,348.78 L426.00,351.19 L426.75,351.09 L428.25,351.42 L429.75,351.42 L431.25,351.42 L432.75,351.18 L434.25,351.15 L435.75,351.28 L437.25,351.47 L438.75,351.21 L440.25,351.11 L441.75,351.39 L443.25,351.35 L444.75,351.12 L446.25,351.30 L447.75,351.57 L449.25,351.33 L450.75,351.44 L451.50,348.89 L452.25,351.58 L453.00,351.52 L454.50,351.45 L455.25,350.02 L456.00,351.37 L456.75,351.43 L457.50,349.80 L458.25,351.59 L459.00,351.40 L460.50,351.65 L462.00,351.57 L463.50,351.45 L464.25,349.62 L465.00,351.66 L465.75,351.45 L467.25,351.61 L468.75,351.70 L470.25,351.54 L471.00,350.11 L471.75,351.55 L472.50,351.61 L474.00,351.68 L475.50,351.35 L477.00,351.38 L478.50,351.75 L480.00,351.38 L481.50,351.55 L483.00,351.65 L484.50,351.43 L486.00,351.82 L487.50,351.43 L489.00,351.59 L490.50,351.49 L492.00,351.70 L493.50,351.56 L495.00,351.87 L496.50,351.65 L498.00,351.85 L498.75,349.30 L499.50,351.92 L500.25,351.48 L501.75,351.92 L503.25,351.70 L504.75,351.83 L505.50,349.94 L506.25,351.91" fill="none" stroke="#3d5f98" stroke-width="1.15" stroke-linejoin="round" stroke-linecap="round"/>
<rect x="1" y="1" width="518" height="392" fill="none" stroke="#555" stroke-width="2"/>
</svg></body></html>
